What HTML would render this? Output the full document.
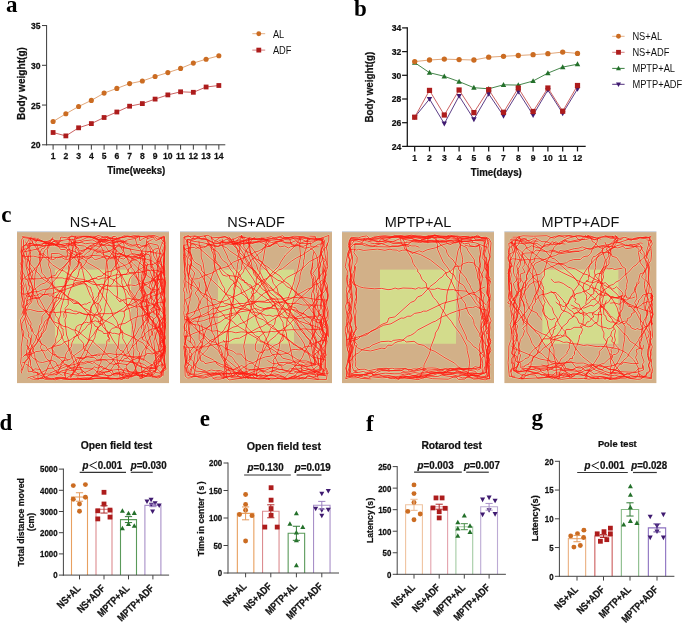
<!DOCTYPE html>
<html><head><meta charset="utf-8"><title>Figure</title>
<style>
html,body{margin:0;padding:0;background:#fff;}
body{width:685px;height:624px;overflow:hidden;font-family:"Liberation Sans",sans-serif;}
svg{display:block;will-change:transform;}
text[font-weight="bold"][font-family*="Sans"]{stroke:#111;stroke-width:0.22px;}
</style></head>
<body>
<svg width="685" height="624" viewBox="0 0 685 624">
<rect width="685" height="624" fill="#fff"/>
<text x="6.00" y="11.50" font-family='"Liberation Serif", serif' font-size="23" font-weight="bold" text-anchor="start" fill="#000" >a</text>
<text x="354.00" y="16.00" font-family='"Liberation Serif", serif' font-size="23" font-weight="bold" text-anchor="start" fill="#000" >b</text>
<text x="1.30" y="221.60" font-family='"Liberation Serif", serif' font-size="23" font-weight="bold" text-anchor="start" fill="#000" >c</text>
<text x="-0.40" y="430.30" font-family='"Liberation Serif", serif' font-size="23" font-weight="bold" text-anchor="start" fill="#000" >d</text>
<text x="199.80" y="425.50" font-family='"Liberation Serif", serif' font-size="23" font-weight="bold" text-anchor="start" fill="#000" >e</text>
<text x="366.00" y="430.50" font-family='"Liberation Serif", serif' font-size="23" font-weight="bold" text-anchor="start" fill="#000" >f</text>
<text x="531.60" y="425.40" font-family='"Liberation Serif", serif' font-size="23" font-weight="bold" text-anchor="start" fill="#000" >g</text>
<line x1="46.60" y1="25.05" x2="46.60" y2="145.30" stroke="#3a3a3a" stroke-width="1.0" />
<line x1="46.10" y1="144.80" x2="225.30" y2="144.80" stroke="#3a3a3a" stroke-width="1.0" />
<line x1="42.00" y1="144.80" x2="46.60" y2="144.80" stroke="#3a3a3a" stroke-width="1.0" />
<text transform="translate(40.60,148.26) scale(1,1.15)" font-family='"Liberation Sans", sans-serif' font-size="8.6" font-weight="bold" text-anchor="end" fill="#111" >20</text>
<line x1="42.00" y1="105.05" x2="46.60" y2="105.05" stroke="#3a3a3a" stroke-width="1.0" />
<text transform="translate(40.60,108.51) scale(1,1.15)" font-family='"Liberation Sans", sans-serif' font-size="8.6" font-weight="bold" text-anchor="end" fill="#111" >25</text>
<line x1="42.00" y1="65.30" x2="46.60" y2="65.30" stroke="#3a3a3a" stroke-width="1.0" />
<text transform="translate(40.60,68.76) scale(1,1.15)" font-family='"Liberation Sans", sans-serif' font-size="8.6" font-weight="bold" text-anchor="end" fill="#111" >30</text>
<line x1="42.00" y1="25.55" x2="46.60" y2="25.55" stroke="#3a3a3a" stroke-width="1.0" />
<text transform="translate(40.60,29.01) scale(1,1.15)" font-family='"Liberation Sans", sans-serif' font-size="8.6" font-weight="bold" text-anchor="end" fill="#111" >35</text>
<line x1="53.10" y1="144.80" x2="53.10" y2="149.60" stroke="#3a3a3a" stroke-width="1.0" />
<text transform="translate(53.10,158.96) scale(1,1.15)" font-family='"Liberation Sans", sans-serif' font-size="8.6" font-weight="bold" text-anchor="middle" fill="#111" >1</text>
<line x1="65.85" y1="144.80" x2="65.85" y2="149.60" stroke="#3a3a3a" stroke-width="1.0" />
<text transform="translate(65.85,158.96) scale(1,1.15)" font-family='"Liberation Sans", sans-serif' font-size="8.6" font-weight="bold" text-anchor="middle" fill="#111" >2</text>
<line x1="78.60" y1="144.80" x2="78.60" y2="149.60" stroke="#3a3a3a" stroke-width="1.0" />
<text transform="translate(78.60,158.96) scale(1,1.15)" font-family='"Liberation Sans", sans-serif' font-size="8.6" font-weight="bold" text-anchor="middle" fill="#111" >3</text>
<line x1="91.35" y1="144.80" x2="91.35" y2="149.60" stroke="#3a3a3a" stroke-width="1.0" />
<text transform="translate(91.35,158.96) scale(1,1.15)" font-family='"Liberation Sans", sans-serif' font-size="8.6" font-weight="bold" text-anchor="middle" fill="#111" >4</text>
<line x1="104.10" y1="144.80" x2="104.10" y2="149.60" stroke="#3a3a3a" stroke-width="1.0" />
<text transform="translate(104.10,158.96) scale(1,1.15)" font-family='"Liberation Sans", sans-serif' font-size="8.6" font-weight="bold" text-anchor="middle" fill="#111" >5</text>
<line x1="116.85" y1="144.80" x2="116.85" y2="149.60" stroke="#3a3a3a" stroke-width="1.0" />
<text transform="translate(116.85,158.96) scale(1,1.15)" font-family='"Liberation Sans", sans-serif' font-size="8.6" font-weight="bold" text-anchor="middle" fill="#111" >6</text>
<line x1="129.60" y1="144.80" x2="129.60" y2="149.60" stroke="#3a3a3a" stroke-width="1.0" />
<text transform="translate(129.60,158.96) scale(1,1.15)" font-family='"Liberation Sans", sans-serif' font-size="8.6" font-weight="bold" text-anchor="middle" fill="#111" >7</text>
<line x1="142.35" y1="144.80" x2="142.35" y2="149.60" stroke="#3a3a3a" stroke-width="1.0" />
<text transform="translate(142.35,158.96) scale(1,1.15)" font-family='"Liberation Sans", sans-serif' font-size="8.6" font-weight="bold" text-anchor="middle" fill="#111" >8</text>
<line x1="155.10" y1="144.80" x2="155.10" y2="149.60" stroke="#3a3a3a" stroke-width="1.0" />
<text transform="translate(155.10,158.96) scale(1,1.15)" font-family='"Liberation Sans", sans-serif' font-size="8.6" font-weight="bold" text-anchor="middle" fill="#111" >9</text>
<line x1="167.85" y1="144.80" x2="167.85" y2="149.60" stroke="#3a3a3a" stroke-width="1.0" />
<text transform="translate(167.85,158.96) scale(1,1.15)" font-family='"Liberation Sans", sans-serif' font-size="8.6" font-weight="bold" text-anchor="middle" fill="#111" >10</text>
<line x1="180.60" y1="144.80" x2="180.60" y2="149.60" stroke="#3a3a3a" stroke-width="1.0" />
<text transform="translate(180.60,158.96) scale(1,1.15)" font-family='"Liberation Sans", sans-serif' font-size="8.6" font-weight="bold" text-anchor="middle" fill="#111" >11</text>
<line x1="193.35" y1="144.80" x2="193.35" y2="149.60" stroke="#3a3a3a" stroke-width="1.0" />
<text transform="translate(193.35,158.96) scale(1,1.15)" font-family='"Liberation Sans", sans-serif' font-size="8.6" font-weight="bold" text-anchor="middle" fill="#111" >12</text>
<line x1="206.10" y1="144.80" x2="206.10" y2="149.60" stroke="#3a3a3a" stroke-width="1.0" />
<text transform="translate(206.10,158.96) scale(1,1.15)" font-family='"Liberation Sans", sans-serif' font-size="8.6" font-weight="bold" text-anchor="middle" fill="#111" >13</text>
<line x1="218.85" y1="144.80" x2="218.85" y2="149.60" stroke="#3a3a3a" stroke-width="1.0" />
<text transform="translate(218.85,158.96) scale(1,1.15)" font-family='"Liberation Sans", sans-serif' font-size="8.6" font-weight="bold" text-anchor="middle" fill="#111" >14</text>
<text transform="translate(136.30,173.80) scale(1,1.08)" font-family='"Liberation Sans", sans-serif' font-size="9.7" font-weight="bold" text-anchor="middle" fill="#111" >Time(weeks)</text>
<text transform="translate(25.4,83.5) rotate(-90) scale(1,1.12)" font-family='"Liberation Sans", sans-serif' font-size="10.1" font-weight="bold" text-anchor="middle" fill="#111">Body weight(g)</text>
<polyline points="53.10,121.50 65.85,113.80 78.60,106.50 91.35,100.40 104.10,93.10 116.85,88.40 129.60,83.60 142.35,81.00 155.10,76.50 167.85,72.60 180.60,68.40 193.35,63.10 206.10,59.20 218.85,55.80" fill="none" stroke="#dc9660" stroke-width="0.85"/>
<polyline points="53.10,132.50 65.85,135.90 78.60,127.80 91.35,123.60 104.10,117.50 116.85,112.00 129.60,106.20 142.35,103.60 155.10,99.10 167.85,94.90 180.60,91.80 193.35,92.30 206.10,87.00 218.85,85.50" fill="none" stroke="#c04444" stroke-width="0.85"/>
<circle cx="53.10" cy="121.50" r="2.55" fill="#cb6c22"/>
<circle cx="65.85" cy="113.80" r="2.55" fill="#cb6c22"/>
<circle cx="78.60" cy="106.50" r="2.55" fill="#cb6c22"/>
<circle cx="91.35" cy="100.40" r="2.55" fill="#cb6c22"/>
<circle cx="104.10" cy="93.10" r="2.55" fill="#cb6c22"/>
<circle cx="116.85" cy="88.40" r="2.55" fill="#cb6c22"/>
<circle cx="129.60" cy="83.60" r="2.55" fill="#cb6c22"/>
<circle cx="142.35" cy="81.00" r="2.55" fill="#cb6c22"/>
<circle cx="155.10" cy="76.50" r="2.55" fill="#cb6c22"/>
<circle cx="167.85" cy="72.60" r="2.55" fill="#cb6c22"/>
<circle cx="180.60" cy="68.40" r="2.55" fill="#cb6c22"/>
<circle cx="193.35" cy="63.10" r="2.55" fill="#cb6c22"/>
<circle cx="206.10" cy="59.20" r="2.55" fill="#cb6c22"/>
<circle cx="218.85" cy="55.80" r="2.55" fill="#cb6c22"/>
<rect x="50.70" y="130.10" width="4.80" height="4.80" fill="#ad1c1c"/>
<rect x="63.45" y="133.50" width="4.80" height="4.80" fill="#ad1c1c"/>
<rect x="76.20" y="125.40" width="4.80" height="4.80" fill="#ad1c1c"/>
<rect x="88.95" y="121.20" width="4.80" height="4.80" fill="#ad1c1c"/>
<rect x="101.70" y="115.10" width="4.80" height="4.80" fill="#ad1c1c"/>
<rect x="114.45" y="109.60" width="4.80" height="4.80" fill="#ad1c1c"/>
<rect x="127.20" y="103.80" width="4.80" height="4.80" fill="#ad1c1c"/>
<rect x="139.95" y="101.20" width="4.80" height="4.80" fill="#ad1c1c"/>
<rect x="152.70" y="96.70" width="4.80" height="4.80" fill="#ad1c1c"/>
<rect x="165.45" y="92.50" width="4.80" height="4.80" fill="#ad1c1c"/>
<rect x="178.20" y="89.40" width="4.80" height="4.80" fill="#ad1c1c"/>
<rect x="190.95" y="89.90" width="4.80" height="4.80" fill="#ad1c1c"/>
<rect x="203.70" y="84.60" width="4.80" height="4.80" fill="#ad1c1c"/>
<rect x="216.45" y="83.10" width="4.80" height="4.80" fill="#ad1c1c"/>
<line x1="252.30" y1="33.70" x2="265.20" y2="33.70" stroke="#e2a878" stroke-width="0.9" />
<circle cx="258.80" cy="33.70" r="2.45" fill="#cb6c22"/>
<text transform="translate(272.90,38.00) scale(1,1.2)" font-family='"Liberation Sans", sans-serif' font-size="9.3" font-weight="normal" text-anchor="start" fill="#111" >AL</text>
<line x1="252.30" y1="50.10" x2="265.20" y2="50.10" stroke="#d07070" stroke-width="0.9" />
<rect x="256.40" y="47.70" width="4.80" height="4.80" fill="#ad1c1c"/>
<text transform="translate(272.90,53.80) scale(1,1.2)" font-family='"Liberation Sans", sans-serif' font-size="9.3" font-weight="normal" text-anchor="start" fill="#111" >ADF</text>
<line x1="407.30" y1="27.30" x2="407.30" y2="147.00" stroke="#151515" stroke-width="1.25" />
<line x1="406.70" y1="146.40" x2="585.70" y2="146.40" stroke="#151515" stroke-width="1.25" />
<line x1="402.10" y1="146.40" x2="407.30" y2="146.40" stroke="#151515" stroke-width="1.25" />
<text transform="translate(401.40,149.77) scale(1,1.12)" font-family='"Liberation Sans", sans-serif' font-size="8.6" font-weight="bold" text-anchor="end" fill="#111" >24</text>
<line x1="402.10" y1="122.70" x2="407.30" y2="122.70" stroke="#151515" stroke-width="1.25" />
<text transform="translate(401.40,126.07) scale(1,1.12)" font-family='"Liberation Sans", sans-serif' font-size="8.6" font-weight="bold" text-anchor="end" fill="#111" >26</text>
<line x1="402.10" y1="99.00" x2="407.30" y2="99.00" stroke="#151515" stroke-width="1.25" />
<text transform="translate(401.40,102.37) scale(1,1.12)" font-family='"Liberation Sans", sans-serif' font-size="8.6" font-weight="bold" text-anchor="end" fill="#111" >28</text>
<line x1="402.10" y1="75.30" x2="407.30" y2="75.30" stroke="#151515" stroke-width="1.25" />
<text transform="translate(401.40,78.67) scale(1,1.12)" font-family='"Liberation Sans", sans-serif' font-size="8.6" font-weight="bold" text-anchor="end" fill="#111" >30</text>
<line x1="402.10" y1="51.60" x2="407.30" y2="51.60" stroke="#151515" stroke-width="1.25" />
<text transform="translate(401.40,54.97) scale(1,1.12)" font-family='"Liberation Sans", sans-serif' font-size="8.6" font-weight="bold" text-anchor="end" fill="#111" >32</text>
<line x1="402.10" y1="27.90" x2="407.30" y2="27.90" stroke="#151515" stroke-width="1.25" />
<text transform="translate(401.40,31.27) scale(1,1.12)" font-family='"Liberation Sans", sans-serif' font-size="8.6" font-weight="bold" text-anchor="end" fill="#111" >34</text>
<line x1="414.70" y1="146.40" x2="414.70" y2="151.40" stroke="#151515" stroke-width="1.25" />
<text transform="translate(414.70,160.97) scale(1,1.12)" font-family='"Liberation Sans", sans-serif' font-size="8.6" font-weight="bold" text-anchor="middle" fill="#111" >1</text>
<line x1="429.50" y1="146.40" x2="429.50" y2="151.40" stroke="#151515" stroke-width="1.25" />
<text transform="translate(429.50,160.97) scale(1,1.12)" font-family='"Liberation Sans", sans-serif' font-size="8.6" font-weight="bold" text-anchor="middle" fill="#111" >2</text>
<line x1="444.30" y1="146.40" x2="444.30" y2="151.40" stroke="#151515" stroke-width="1.25" />
<text transform="translate(444.30,160.97) scale(1,1.12)" font-family='"Liberation Sans", sans-serif' font-size="8.6" font-weight="bold" text-anchor="middle" fill="#111" >3</text>
<line x1="459.10" y1="146.40" x2="459.10" y2="151.40" stroke="#151515" stroke-width="1.25" />
<text transform="translate(459.10,160.97) scale(1,1.12)" font-family='"Liberation Sans", sans-serif' font-size="8.6" font-weight="bold" text-anchor="middle" fill="#111" >4</text>
<line x1="473.90" y1="146.40" x2="473.90" y2="151.40" stroke="#151515" stroke-width="1.25" />
<text transform="translate(473.90,160.97) scale(1,1.12)" font-family='"Liberation Sans", sans-serif' font-size="8.6" font-weight="bold" text-anchor="middle" fill="#111" >5</text>
<line x1="488.70" y1="146.40" x2="488.70" y2="151.40" stroke="#151515" stroke-width="1.25" />
<text transform="translate(488.70,160.97) scale(1,1.12)" font-family='"Liberation Sans", sans-serif' font-size="8.6" font-weight="bold" text-anchor="middle" fill="#111" >6</text>
<line x1="503.50" y1="146.40" x2="503.50" y2="151.40" stroke="#151515" stroke-width="1.25" />
<text transform="translate(503.50,160.97) scale(1,1.12)" font-family='"Liberation Sans", sans-serif' font-size="8.6" font-weight="bold" text-anchor="middle" fill="#111" >7</text>
<line x1="518.30" y1="146.40" x2="518.30" y2="151.40" stroke="#151515" stroke-width="1.25" />
<text transform="translate(518.30,160.97) scale(1,1.12)" font-family='"Liberation Sans", sans-serif' font-size="8.6" font-weight="bold" text-anchor="middle" fill="#111" >8</text>
<line x1="533.10" y1="146.40" x2="533.10" y2="151.40" stroke="#151515" stroke-width="1.25" />
<text transform="translate(533.10,160.97) scale(1,1.12)" font-family='"Liberation Sans", sans-serif' font-size="8.6" font-weight="bold" text-anchor="middle" fill="#111" >9</text>
<line x1="547.90" y1="146.40" x2="547.90" y2="151.40" stroke="#151515" stroke-width="1.25" />
<text transform="translate(547.90,160.97) scale(1,1.12)" font-family='"Liberation Sans", sans-serif' font-size="8.6" font-weight="bold" text-anchor="middle" fill="#111" >10</text>
<line x1="562.70" y1="146.40" x2="562.70" y2="151.40" stroke="#151515" stroke-width="1.25" />
<text transform="translate(562.70,160.97) scale(1,1.12)" font-family='"Liberation Sans", sans-serif' font-size="8.6" font-weight="bold" text-anchor="middle" fill="#111" >11</text>
<line x1="577.50" y1="146.40" x2="577.50" y2="151.40" stroke="#151515" stroke-width="1.25" />
<text transform="translate(577.50,160.97) scale(1,1.12)" font-family='"Liberation Sans", sans-serif' font-size="8.6" font-weight="bold" text-anchor="middle" fill="#111" >12</text>
<text transform="translate(496.30,176.00) scale(1,1.08)" font-family='"Liberation Sans", sans-serif' font-size="9.7" font-weight="bold" text-anchor="middle" fill="#111" >Time(days)</text>
<text transform="translate(372.8,87.2) rotate(-90) scale(1,1.1)" font-family='"Liberation Sans", sans-serif' font-size="9.8" font-weight="bold" text-anchor="middle" fill="#111">Body weight(g)</text>
<polyline points="414.70,62.60 429.50,72.70 444.30,76.30 459.10,81.60 473.90,87.70 488.70,88.80 503.50,84.80 518.30,85.10 533.10,81.00 547.90,73.10 562.70,67.10 577.50,64.20" fill="none" stroke="#23702a" stroke-width="0.85"/>
<path d="M414.70,59.74 L417.43,64.68 L411.97,64.68Z" fill="#23702a"/>
<path d="M429.50,69.84 L432.23,74.78 L426.77,74.78Z" fill="#23702a"/>
<path d="M444.30,73.44 L447.03,78.38 L441.57,78.38Z" fill="#23702a"/>
<path d="M459.10,78.74 L461.83,83.68 L456.37,83.68Z" fill="#23702a"/>
<path d="M473.90,84.84 L476.63,89.78 L471.17,89.78Z" fill="#23702a"/>
<path d="M488.70,85.94 L491.43,90.88 L485.97,90.88Z" fill="#23702a"/>
<path d="M503.50,81.94 L506.23,86.88 L500.77,86.88Z" fill="#23702a"/>
<path d="M518.30,82.24 L521.03,87.18 L515.57,87.18Z" fill="#23702a"/>
<path d="M533.10,78.14 L535.83,83.08 L530.37,83.08Z" fill="#23702a"/>
<path d="M547.90,70.24 L550.63,75.18 L545.17,75.18Z" fill="#23702a"/>
<path d="M562.70,64.24 L565.43,69.18 L559.97,69.18Z" fill="#23702a"/>
<path d="M577.50,61.34 L580.23,66.28 L574.77,66.28Z" fill="#23702a"/>
<polyline points="414.70,117.20 429.50,99.00 444.30,123.70 459.10,96.00 473.90,119.30 488.70,93.90 503.50,115.80 518.30,91.70 533.10,115.10 547.90,90.00 562.70,113.30 577.50,89.00" fill="none" stroke="#3f1a70" stroke-width="0.85"/>
<path d="M414.70,120.06 L417.43,115.12 L411.97,115.12Z" fill="#3f1a70"/>
<path d="M429.50,101.86 L432.23,96.92 L426.77,96.92Z" fill="#3f1a70"/>
<path d="M444.30,126.56 L447.03,121.62 L441.57,121.62Z" fill="#3f1a70"/>
<path d="M459.10,98.86 L461.83,93.92 L456.37,93.92Z" fill="#3f1a70"/>
<path d="M473.90,122.16 L476.63,117.22 L471.17,117.22Z" fill="#3f1a70"/>
<path d="M488.70,96.76 L491.43,91.82 L485.97,91.82Z" fill="#3f1a70"/>
<path d="M503.50,118.66 L506.23,113.72 L500.77,113.72Z" fill="#3f1a70"/>
<path d="M518.30,94.56 L521.03,89.62 L515.57,89.62Z" fill="#3f1a70"/>
<path d="M533.10,117.96 L535.83,113.02 L530.37,113.02Z" fill="#3f1a70"/>
<path d="M547.90,92.86 L550.63,87.92 L545.17,87.92Z" fill="#3f1a70"/>
<path d="M562.70,116.16 L565.43,111.22 L559.97,111.22Z" fill="#3f1a70"/>
<path d="M577.50,91.86 L580.23,86.92 L574.77,86.92Z" fill="#3f1a70"/>
<polyline points="414.70,117.20 429.50,90.40 444.30,115.00 459.10,90.00 473.90,112.60 488.70,89.70 503.50,112.30 518.30,88.00 533.10,111.50 547.90,88.00 562.70,111.20 577.50,85.50" fill="none" stroke="#c04444" stroke-width="0.85"/>
<rect x="412.10" y="114.60" width="5.20" height="5.20" fill="#ad1c1c"/>
<rect x="426.90" y="87.80" width="5.20" height="5.20" fill="#ad1c1c"/>
<rect x="441.70" y="112.40" width="5.20" height="5.20" fill="#ad1c1c"/>
<rect x="456.50" y="87.40" width="5.20" height="5.20" fill="#ad1c1c"/>
<rect x="471.30" y="110.00" width="5.20" height="5.20" fill="#ad1c1c"/>
<rect x="486.10" y="87.10" width="5.20" height="5.20" fill="#ad1c1c"/>
<rect x="500.90" y="109.70" width="5.20" height="5.20" fill="#ad1c1c"/>
<rect x="515.70" y="85.40" width="5.20" height="5.20" fill="#ad1c1c"/>
<rect x="530.50" y="108.90" width="5.20" height="5.20" fill="#ad1c1c"/>
<rect x="545.30" y="85.40" width="5.20" height="5.20" fill="#ad1c1c"/>
<rect x="560.10" y="108.60" width="5.20" height="5.20" fill="#ad1c1c"/>
<rect x="574.90" y="82.90" width="5.20" height="5.20" fill="#ad1c1c"/>
<polyline points="414.70,61.60 429.50,60.00 444.30,59.10 459.10,59.60 473.90,60.00 488.70,57.20 503.50,56.30 518.30,55.50 533.10,54.70 547.90,53.70 562.70,52.10 577.50,53.40" fill="none" stroke="#dc9660" stroke-width="0.85"/>
<circle cx="414.70" cy="61.60" r="2.65" fill="#cb6c22"/>
<circle cx="429.50" cy="60.00" r="2.65" fill="#cb6c22"/>
<circle cx="444.30" cy="59.10" r="2.65" fill="#cb6c22"/>
<circle cx="459.10" cy="59.60" r="2.65" fill="#cb6c22"/>
<circle cx="473.90" cy="60.00" r="2.65" fill="#cb6c22"/>
<circle cx="488.70" cy="57.20" r="2.65" fill="#cb6c22"/>
<circle cx="503.50" cy="56.30" r="2.65" fill="#cb6c22"/>
<circle cx="518.30" cy="55.50" r="2.65" fill="#cb6c22"/>
<circle cx="533.10" cy="54.70" r="2.65" fill="#cb6c22"/>
<circle cx="547.90" cy="53.70" r="2.65" fill="#cb6c22"/>
<circle cx="562.70" cy="52.10" r="2.65" fill="#cb6c22"/>
<circle cx="577.50" cy="53.40" r="2.65" fill="#cb6c22"/>
<line x1="612.20" y1="36.30" x2="624.60" y2="36.30" stroke="#e2a878" stroke-width="0.9" />
<circle cx="618.50" cy="36.30" r="2.45" fill="#cb6c22"/>
<text transform="translate(632.40,39.90) scale(1,1.2)" font-family='"Liberation Sans", sans-serif' font-size="9.3" font-weight="normal" text-anchor="start" fill="#111" >NS+AL</text>
<line x1="612.20" y1="52.30" x2="624.60" y2="52.30" stroke="#d07070" stroke-width="0.9" />
<rect x="616.10" y="49.90" width="4.80" height="4.80" fill="#ad1c1c"/>
<text transform="translate(632.40,55.90) scale(1,1.2)" font-family='"Liberation Sans", sans-serif' font-size="9.3" font-weight="normal" text-anchor="start" fill="#111" >NS+ADF</text>
<line x1="612.20" y1="68.40" x2="624.60" y2="68.40" stroke="#23702a" stroke-width="0.9" />
<path d="M618.50,65.76 L621.02,70.32 L615.98,70.32Z" fill="#23702a"/>
<text transform="translate(632.40,72.00) scale(1,1.2)" font-family='"Liberation Sans", sans-serif' font-size="9.3" font-weight="normal" text-anchor="start" fill="#111" >MPTP+AL</text>
<line x1="612.20" y1="84.30" x2="624.60" y2="84.30" stroke="#3f1a70" stroke-width="0.9" />
<path d="M618.50,86.94 L621.02,82.38 L615.98,82.38Z" fill="#3f1a70"/>
<text transform="translate(632.40,87.90) scale(1,1.2)" font-family='"Liberation Sans", sans-serif' font-size="9.3" font-weight="normal" text-anchor="start" fill="#111" >MPTP+ADF</text>
<rect x="17.00" y="231.80" width="152.00" height="151.30" fill="#d2b088"/>
<rect x="17.00" y="231.20" width="152.00" height="1" fill="#c8d0dc"/>
<rect x="55.00" y="269.62" width="76.00" height="74.14" fill="#d3dc8c"/>
<defs><path id="trk0" d="M1217 3621l30-38 21 3 20-28 65 22 46 6 37 17 7-32 17-28-5-28 13-44 26-23-36-61-21-83 3-38-10-34-11-81 12-33-19-69 40-117-34-69 8-39-12-26 0-33 22-81-4-36 21-64-27-43-94 34M388 2545l45-9 34 32 51 31 23-6 27-21 47 1 30 18 34 4 25-19 42 1 28-38 39 9 39 33 41-1 26-12 32 30 82-27 33 18 72-1 39-25 26 18 35 11 24-24 46-28 39-2 53 18 50 3-16 44 44 37-25 65 9 22-7 41-31 49 29 22-31 54 54 59-7 34 15 44-19 37 11 38-3 38-22 30 18 36M1223 3773l98-5 39-24 73 27 41-13 48 12 46 1 46-12 3-41 45-24-19-65-1-54 12-48-17-56-12-114-23-28-11-30 40-27-22-59-24-21-21-39 2-46-53-89 10-41-20-30 29-54-18-34 20-62 19-18 14-42-35-23-24-26 18-46-20-22 6-46-5-44-6-41-17-31-49 4-47 17-34-21-55 3-36-18-27-36-107 24-41-6-53 26-54 13-31-9-49 10-42 26-36 46-41-7-102-40-10 34 6 27-13 33-37-30-42-21-71 3 1 55M344 2408l32-8 61 15 57 7 26 21 38 1 39-28 11-46 66 9 41-20 67 26 41-16 44-2 50 8 46 21 64 0 22-9 25-22 45 41 158-47 57 12 58-11 7 49 29-21 59-28 42 9 28 37 42-16 42-32 10 71-14 54 5 37-37 75 9 39-5 146 9 157 23 42-14 44 22 52-21 56 24 56-31 134 4 28 27 36-51 34 13 35 23 27-29 26 1 103-40 11-13 46M1531 3360l-22-63 16-17-5-53 14-33 41-35-72-66 43-34-12-35 29-59 12-44-9-48 2-37-33-25 12-47-14-50 6-30-26-31-12-41 2-38-13-30-40 5-21-20-39 15-53 9-24-29-11-36-85-12-33-13-53 24-55 33-41 7-34-14-41 21M1577 2697l18 38-18 57 33 35-1 33 24 48-18 61-8 83 35 50-15 104-2 63-16 44 31 22 6 45-17 38-38 22-2 46 34 66-50 16-32 65 19 50-55-3-18 29-79 16-51-1-45 15-40-3-69-18-23 30-46 4-54-54-45-21-15-18-39 23-42-15-22 28-72 31-33-37-106 17-32-11-59 13-36 30-33 10-51 3-58 29-58 5 2-62-49 6-10-44-16-31-1-53-39-52 1-46 30-54 24-105M1548 3321l6 51 33 105 1 44-37 26 6 43-23 33 29 60-90-14-28-22-31-13-39-6-27 2-47-6-24 23-92-13-42 10-42-8-42-37-43-6-45 6-31-26-46 4-13-9-53 12-34-6-32 2M267 3454l36 43-9 39 5 37-15 62-5 47 4 36 39-3 24-27 57 7 17 49 51-5 51 4 50-21 45-2 88 23 106 11 151 3 47-15 57 13 41 3 50-30 44 3 45 21 58-4 42-16 90 18 25 15 47-11 37-17 11-25-4-62 31-19-1-45M1513 2607l-13 60 24 9 23 46-55 140 20 44-13 36 11 40 42 35 40 45 3 59-15 35 17 59-10 38 29 61-21 43 28 33 36 83-20 39-17 57 26 64 2 41-48 58-41-7-36-23-26 11-33 44-87-5-52-31-83-15-45-13-86 9-42 20-46 0-43-12-47 47-67-10-30-34-56 26M276 2438l47-5 10-45 55 4 17 14 44 16 88-31 8 24 42 27 77 17 83-38 33 10 60-23 87-9 41 22 67-16 84 28 52-21 95 20 58 19 68-6 23 15 45-6 37-21 82 18 19 69-10 68 4 40-11 18-10 44-1 44 8 38 29 39-5 51-36 54-6 59 8 29-24 62-8 43 6 40M210 2674l19-95-17-58 2-119 14-27 100 15 26 20 53-10 36 22 52 20 34-8 28 16 28 9 44 4 50-23 46 16 34-45 51-7 89-42 55 1 65 27 44 8M965 2400l89-5 66 20 39-24 40-18 30 4 48-12 57 8 207-19 53 20 50-5 4 114-9 131-7 35 10 46-17 25-11 39 17 39-9 48 14 60-28 14-4 49 18 22 9 60-5 56 29 55-49 38-13 51M221 2366l64 8 35 15 68 19 85 20 47 2 51 18 40-42 67-11 53 3 57-25 45-9 53-2 52 18 39-26 59 14 45 0 54 21 55-6 52-26 53 11 46-12 105 11 33 18 63-18 32 24 67-14-10 43-15 22-20 65 17 51-10 40 25 101-56 75-14 29-21 107 22 48 19 85 7 44-8 37 46 58-24 35 2 61 22 51 14 54-9 62 15 43-12 41 9 54 2 61-33 17 23 40 0 43-21 24-31 14-98-42-30-4-31 28-56-11-52 8-45-7-89 34-125-4M1514 3648l-7 51-24 24-43-16-33 20-55-11-49 14-21-29-35-17-13 29-9 48-44-33-55 16-46 21-32-25-15-21-41 18-58-48-88-2-24-13-105 8-58-42-36 18-32 25-36-65-43-16-87 23-46-7-13-21-30-11-21-24-11-42-20-29-14-47 5-46-42-37 6-42-21-36 2-47 39-77-6-40 34-64 29-30 19-120-29-96 24-74-30-59-7-60-23-56-14-56 26-25-26-62M1528 3762l41 0 40-13 1-38 47-32-30-31-19-38 29-93 4-53-5-25-28-43 3-37-18-158-22-48-7-53 12-41-4-80 8-64M1573 3158l-14-82 16-60-11-39 10-109 0-92-7-41 16-45-16-48 10-38 20-44M626 2408l-54 0-42 10-35 24-52-13-37 30-115-28-4 42 7 52-28 134 39 73 4 28 27 41M321 3320l-16-46 7-42-42-78-15-57 0-36 46-37 4-47 21-46 3-50-39-104-30-109-1-61-23-45 4-46-4-61 33-5 63 3 39-6 50 10 42-5 61 5 21-5 58 19 67 3 24-25 44 3 45 27 11 32 85-24 45-5 34 31 43 9 39 28 33 8 31 25 95-50 69 26 22-6 32 34 43-13 21 8 51-20 15 26-13 47 28 21-2 66-21 61-22 43 8 39-12 33 30 39-15 35 1 26-13 36-3 44 40 18 25 26-47 30-10 37 16 31-25 33-2 36M271 3010l4-8 5 11-26 47-2 32-15 16-2 41-31 50 23 171-15 99 1 95-7 69 16 42-11 34 6 25M500 3730l170-69 89-20 46-21 30 7 33-16 56 27 17-15 28 22 30 14 32 28 12-4 80 24 10 29 52 1 27 11 31 1M1582 2903l-27-7-23 2-33-14-87-63-31-35-22-11-25-43-46-8-22-41-29-40-35-18-28-31-31-25-39-47-21-15-27-44-30-11-17-17-14-30-40-25-20-3M552 3776l57-5 53 11 58-36 12-25 7-36 4-28-6-40-54-144 4-64-21-59-17-151 15-34-14-81 33-39-3-88 33-84 20-20 7-38 39-55 16-70 34-24 28-36 15-38 37-21 29-57 62-45 9-27 69-58M1600 3579l46-75 1-177-10-39 22-61-11-49-6-132 6-108-4-63 12-41-17-105 0-107 11-138-4-63-26-18-10-32M1168 2406l12 28 27 27 11 32 23 25 5 29 23 33 46 94 24 30 20 37 11 42 18 30 6 43 16 22 57 164 12 49 0 48 11 45-11 40-25 24-2 39-25 32-10 34 12 47 13 1 30 23 60 72 16 5 26 32 53 23M1596 2754l-33 75-38 68-15 42 0 38-25 35 7 32-17 61 2 71-8 59 19 53 1 63 9 36 30 103 19 32 17 74-2 37 6 21-8 19 3 32-35 20-13 27-33-6-41 24-46 14M1012 2377l47-5 32 11 106 11 18 14 17 25 4-2 7 27-8 15-2 44-29 29-19 44-6 30-67 93-2 35-53 60-72 143-28 35-35 68-25 64-17 21-24 63-34 38-40 102-31 24-32 62-4 37-49 60-11 27-5 37-40 65-47 101M1617 2422l31 31-6 121 4 50-15 45 17 111-12 110 12 99-8 64-1 102-13 65-36 39-52 153 9 95 29 43 42 17M1368 3753l-14-60 2-31-30-40 14-127-17-39 12-30-3-52 5-44 16-59 9-84 16-25-6-51 6-12-13-33-6-43-32-42-35-31-22-45-43-28-90-79-33-14-22-22-64-38-23-28-120-69-26-26-40-26-70-31-30-20-81-70-35-16-32-24M1569 2873l10-31 23-34 4-53 11-19-12-57-81-69-56-18-59-6-59-22-82 7-25-12-120 15-45-11-36 8-35-12-89-5-59 15-31-4-92 10-39-15-88 4-32 15-49-9-121 8-74-17-81 4-30-10M263 3061l11-12-8-24-1-22 25-52-20-26 20-19 6-34-15-31 10-21-1-58 8-40-6-67 16-67-6-46 6-29-12-32 6-46-3-23 13-45M648 3759l-8-22 22-18 8-17 29-21 27-2 77-38 40-2 35-15 55-13 91-11 108-4 204 26 85 49 44 17 39 27 24 58M1591 3525l16-48-11-51 1-49-7-40-33-45-19-51-89-131-42-33-52-77-50-63-14-41-1-38-7-20 14-48 18-28 72-65 29-13 38-27 40-14 38 2 36-24 30-9 14-21M228 2498l35-12 60-34 40 2 77-21 95 9 46 17 26 37 45-2 31 35 43 28 49 58 36 12 9 38 34 28 41 47 205 338 16 31 10 43 41 57 24 69 24 35 15 46-4 25 35 63 14 36-2 21 61 117 37 104 35 60 22-5-15-39M252 2794l43-6 97 0 50-13 26 11 37-13 43 7 75-1 22 8 73 5 32 12 87 13 34-5 51 29 64 11 50 35 48 10 57 56 97 59 12 21 36 16 36 4 35 18 31-4 48 2 126-32 31-14 49 0M1631 3636l-94 51-53-3-92-20-51-34-89-72-19-45-31-9-73-104-36-70-33-22-11-42-34-80-23-31-25-73-45-101-21-29-36-92-21-32-1-42-17-82-49-124-27-84 11-22-19-74 13-40M228 3571l34-33 24-10 46-65 29-24 60-98 35-41 30-108 14-23 24-64 8-40-3-96 7-56-31-217-20-43 7-39-12-47-6-73 14-20 5-28 54-42 40 11M1616 3538l7-47-19-60-3-65-43-107-28-24 6-32-6-27-39-19 4-38-13-16-15-37-2-67-11-77-31-71 27-81-11-76 9-27-2-98 9-27 5-39 5-98 17-37M1604 2970l-28 38-19 40-34 42-15 37-81 119-34 36-42 78-29 18-92 143-49 43-43 18-14 38-33 21-18 26-38 29-21 9-19 22-121 67-164-3-138-12-27 11-29-3-62-16-67-26-67-54-36-36-26-13M242 3554l77-14 40-24 42-5 25-11 30 11 30-23 61-25 67-16 35-29 56-18 25-25 67-29 23-34 34-25 20-34 30-18 35-66 7-27 28-29 7-25-2-48 23-28 18-33 32-194 12-161 27-50 40-54 16-36 41-39 83-45 91-17 19-13M222 3707l31-96 25-27 4-38 23-41 5-31 42-65 20-67 26-26 33-57 18-47 43-34 13-53 28-26 78-106 10-40 31-39 1-56 39-155-8-44 14-24 7-120-18-39 7-88M835 3743l-24-42-6-27-36-49-24-59-28-28-6-32-77-100-27-81-17-33-33-36-91-135-80-147-18-42-6-28-19-34 7-122 24-84 48-80 22-77 29-25 14-46 23-28 16-33M1130 2376l-69 20-38 5-29 18-47 48-34 9-14 36-26 13-39 36-12 24-33 11-11 55-23 23-92 135-3 44-34 32-10 36-20 29-11 43-29 30-60 115-4 24-32 80-14 17-12 50-20 21-2 38-28 23-9 33-36 49-22 57-44 68-24 26-27 4M381 2382l-24 43 48 116 39 27 83 81 77 50 40 13 33 27 18 4 24 23 44 19 69 8 40 15 72 14 29 26 47-6 76 22 37-4 116 6 21-14 43-2 41 7 37-21 30 4 83-26 103-80M1639 3351l-97-84-52-33-6-38-32-37-11-52-26-64-7-42 14-44-8-71 14-70 2-49 17-64-6-43-20-78 2-49-12-31-41-54-17-60M254 2936l28 1 62-19 38-2 53-22 51-3 37-7 26-11 96-12 84-17 30-17 40 1 22-10 52-4 73-34 41 15 32-13 47-4 101-32 31 3 82-8 58-17 67 0 63-19 36-2 66 0 68 24M801 3783l47-5 53 3 35-19 83-22 40-26 36 2 57-80 32-4 50-76 44-24 23-28 19-39 29-19 51-66 29-5 24-40 34-30 44-18 38-1 28-20M972 3725l22-73 17-31-2-37 28-49 30-87 2-42 26-22-12-24 6-17 16-41 19-21 18-1 33-19 14-17 60-9 82-50 55-23 28-2 113-37 34-26 46-1M218 2498l40 87 30 21 21 42 27 24 18 36 27 21 45 60 81 51 25 23 21 31 61 27 86 64 45 17 44 25 120 141-2 47 10 47-30 136-13 39-37 86-54 97-7 44-74 107M1584 2484l-41 7-16 24-35 1-89 58-89 37-45 34-97 35-49 29-61 12-43 40-41 5-26 19-39 7-35 23-33 0-24 19-230 83-28 4-41 20-44-3-44 10-44 31-45-4-41 20-33 7M1627 3733l6-38 18-26-8-122 7-39-12-92 19-39-13-32 10-88-8-31 6-36-12-103 10-66-11-121-1-104 10-42 0-47-17-31-52-64-22-88 23-17M221 2715l18 24 13 42 22 18 16 48 34 45-3 31 47 67 15 53 32 40 29 18 42 49 21 17 17 37 26 19 40 13 46 28 38 6 55 29 29 2 45 30 82 68 38 6 29 35 50 41 37 38 20 12 32 39 26 7 48 68 54 47 56 79M704 3781l38-53 74-130 28-13 26-49 8-35 71-125 3-25 25-71 23-25 10-66 22-33 14-40 3-42 20-74-5-53 9-31 2-55 9-43-5-120-10-70-9-39-24-36-5-51-30-52-21-53-44-25M301 2386l106 161 1 66-11 10-11 31-36 29-7 15-76 60-16 19-24 15-11 15-5 39 11 12-3 43-8 25 13 66-7 39 6 51M240 2518l130-27 50-25 119-26 62 7 52-11 161-12 40 14 55-8 211 30 59-10 112 39 125 22 82 4 23 11 74 7 34 10M1633 3327l-64-74-63-62-62-155-12-42-6-53-27-45 0-43-21-60 8-38-5-47 10-65 18-38-12-37 27-67 20-22 31-61 52-25M1430 3719l37 18 39-4 60-41 67-180 7-67-6-37 11-33-3-71 12-31-4-42-11-30 10-112-14-39 18-41-13-74-20-52-1-66-19-113-30-88-34-59-1-40-63-103M679 2384l28 31 35 23 35 15 69 8 33 26 58 15 81-1 42 13 51-6 37 26 44 4 55 21 46 10 38 25 39 11 80 71 50 33 20 60 26 25 8 44 33 57 10 33 22 23M1643 2909l-35 24-84 29-53 34-41 6-42 41-40 21-78 28-30 21-43-3-29 17-72 10-97 0-51 15-57-6-29 2-66-21-35 13-125-22-82 7-33-5-34 2-29-17-35 10-42 1-79-21-41 7M676 2384l45-21 59-2 91 3 103 22 39 27 54 18 51 32 87 75 49 26 79 72 69 71 52 23 20 30 61 35 18 19 19 9 5-30 23 4M789 3745l-142-102-44-54-87-54-45-46-13-26-39-23-43-42-13-31-28-32-15-52-32-40-42-100-7-106-17-59-6-56 1-148 12-81-3-32 6-57M528 2381l-70 64-13 36-28 8-26 63 6 62 23 118 27 27 17 30 66 56 22 35 36 23 36 14 63 66 18 7 40 29 28 7 60 52 56 27 57 41 28 9 57 41 100 48 32 31 25 5 30 21 17 31 95 41 65 41 34 15 31 44 37 26 30 34 21-3 47 70 25 26 3 31 19 35M1643 3472l-31-110-38-64-25-61-62-73-71-99-15-38-37-38-73-99-88-159-31-36-6-40-32-104-5-42 8-51-5-37M303 3785l31 8 39-2 29-8 15 5 45-76 25-61 19-29 9-51 12-25-2-51 6-39 26-35 0-35 19-45 0-43 16-51-2-54 16-47 1-54 36-125-1-73 10-27-1-43 17-44 9-49 26-79-4-70 61-191 21-21M1314 3772l-30-43-24-61 9-19 23-25 39-28 20-3 36-26 51-9 40-25 48 8 38-22 45-9 39-26-2-38-11-28 0-26 11-36-5-39 6-57-4-114-26-26-24-37M1276 2420l-82-14-49 7-43-12-103 18-38 11-31 18-32 9-56 49-35 15-18 18-27 9-27 29-62 49-108 155-40 41-26 49-41 33-13 32-61 53-21-6-28 5-25-8-42-75-12-71M1428 3763l-20-124-14-23-6-42 9-48-25-27-9-80-25-65-12-59-1-38-9-38-12-25-5-73-13-42-21-34-7-95-41-123 2-31-30-97 1-41-30-48-8-56 0-49-21-33-8-77 8-34 0 4 22 0 16 11M1608 3166l-48 85-10 33-22 26-8 30-38 65-14 43-17 34-21 26-41 102-17 27-13 43-53 88-25 6 7 11-18 3-19-10-2 7-11-6 6 2-19 5-3 9-32-10-11 6-48-5-28 7-114-27-56-6-55-13-32 10-89 3M217 3146l22-61-11-25 17-35-12-134 10-30-15-48-7-83-3-208 15-33 0-19 41-45 15-32 14-9 52-4M274 3781l40-16 41-7 109-60 15-13 55-5 38-27 27-2 27-42 75-16 38-37 78-55 68-83 16-34 37-42 16-31 35-45 45-33 43-43 89-65 71-44 35-30 43-9 135-80 152-74M656 3782l-6-63 15-27 19-29 97-78 56-1 34-20 62-7 47-17 78 2 34-8 57 10 57-1 110 26 60-2 47 18 132 88 82 80M1642 2584l-5 41 3 116 4 48 13 34-9 31-6 78 2 72-9 22 14 67 2 44-9 87 11 35-10 120 11 137-32 26-68 87-60 32-97 71-41 8-31 17-74 12-27 22-142-13-70 8-68-5-26 6-41-4-54 10-52-16M248 3184l26 123 16 24-8 38 27 17-1 53 22 46 1 19 16 42 3 32 18 52 40 83 27 33 19 38 63 7 28-9 23 4 37-6 25 12 49 4 73-13 45 8 67 3 47-1 59-12 123-5M1198 3768l0-30-17-51 9-23-14-40-16-111 23-51 9-100 12-37 0-57 42-110-5-41 87-130 26-25 21-48 53-61 48-11 56-41 38-1 33-8 35 7M724 2389l46 101 28 45-13 111-21 41-44 41-42 86-60 72-49 74-29 28-83 136-36 38-4 67-19 24-19 88 36 106-15 24 38 60 25 55 27 20 49 89 57 43 30 16M1622 2494l17 68-1 83 8 14-1 47-14 26 16 44-4 46 9 35-11 148 8 64-9 129 6 10-20 34-32 25-36 12M1239 3774l-108 14-108-6-76 3-82 12-71-12-33 9-34-3-28 5-61-19-86 22-27-8-73 3-37-20-30 18-54-19M1612 3088l-103-54-34-12-59-12-40-17-43 1-55-13-27 19-22-3-15 16-11-7-2 16-34-37 9-44-13-192 15-32-21-50 0-41 13-38-18-38 15-43-21-36-9-75M253 2994l14-38 15-23 26-10 20-20 34-20 22-23 30-18 41-14 57-65 42-9 19-36 88-72 23-29 45-97-15-108-22-34M1024 3185l-23-35-3-27 18-24-14-28 1-11-21-27-24 0-36-40 15-12-10-30 0-18-11-18-11-44-17-2-20-18-7-13-92 1-48 22M1228 3326l-20-4-16 21-47-11-20 2-26-12-19 9-44 5-10-20-46-18-2-27-29-9-5-18-22-15-23-62-1-27 15-32-7-25 10-25 61-52 6-28 7-8-7-30 4-15 39-47 55-32 12 16 23-16 20-24-5-15 30-24 28-7 13-20 14 2 23-16 22 2 20-29 6-29 22-11 11-21-22-22 28-50-9-16M581 2946l-18 10-3 52-16 15-9 51 11 10-11 25 17 25 3 23 29 32-4 20 28 38 4 34 20 8-3 15 6 51-23 15 1 17-59 55-5 12-23 7-12 26 24 26 5 34 16-3 17 24 79 12 22 20-1 5M638 3177l3-13-5-25 29-47 33 0 37 19 34 1 7 10 19-1 42 18 76 9 56 32 11 15 13 39 26 3 8 28 26 29 25 17-1 54 18 20-6 22 3 13M908 3020l-25 8-16 13-24-1-32 15-2-8-26-14-47 3-28-30-20-10-66-5-42-14-32-2-35-19-17 8-13-18-46 0-41-10-32 22-12-7-20 10-51 4-36-24-26-1-9-79 13-6-12-16 6-32-11-19 6-37-7-13 16-80-19-21 16-23 1-60-6-10-2-29 11-43 14-15-2-60M1032 3188l-17 18-34 14-30-14-14 9-33-2-17 17-21-9-23 8-20 17-31 2-29 17-13 52 17 32 17 17 1 18 18 12 31 37 0 43 19 26 17 3 18 26 12 4 19 25 26-8 31 9 9-6 17-2"/></defs><g transform="scale(0.1)" fill="none" stroke-linejoin="round"><use href="#trk0" stroke="#e2efc0" stroke-width="20" opacity="0.6"/><use href="#trk0" stroke="#ff1a10" stroke-width="8"/></g>
<text transform="translate(93.00,226.80) scale(1,1.07)" font-family='"Liberation Sans", sans-serif' font-size="14.5" font-weight="normal" text-anchor="middle" fill="#111" >NS+AL</text>
<rect x="180.00" y="231.80" width="152.00" height="151.30" fill="#d2b088"/>
<rect x="180.00" y="231.20" width="152.00" height="1" fill="#c8d0dc"/>
<rect x="218.00" y="269.62" width="76.00" height="74.14" fill="#d3dc8c"/>
<defs><path id="trk1" d="M1898 2687l19-49-8-43 4-36-11-50 7-54-5-47 115 17 155 36 90-17 36-16 52 10 141-45 44-4 47 10 45-7 43 5 112-29 45 11 53-2 59-15 104 6 36 17 63-6 29 13 52 1-16 56 3 42-20 106 14 51-21 46 14 45-3 52 15 78 5 55-10 40 29 44 7 52-7 94 23 56-2 50-31 28 3 58-26 77-3 81-49 34-14 22 26 50-7 41-38 2-34 13-36-3-24-17-48 10M3128 2633l-22 98 28 39 10 106-10 40 13 44-2 49 8 51-7 106-28 30-18 50 28 45 3 51-8 38 18 58 1 33-7 34 16 145-26-14-46-8-26 3-66-19-29-3-38 16-34-3-91 4-27 11-41-1-53-31M3285 3372l-5-112-31-53 23-44 12-47-16-59-1-45 14-54-7-107-29-57 17-42-18-41 17-57 3-46-34-29-18-43 1-46 17-27-8-72-65-2-4-25-60-3M3212 3315l15-37-14-58 38-142-33-89-4-49 39-162 7-55 18-57-6-46 1-104-10-38 6-30 18-36 2-58-98 36-77 44-99 0-23 4-43 22-39-15-11-52-37-19-31 8-19 15-114-11-45 10-49-13-53 10-40 0-58-18-58 2-39 43-54-10-27-31-25-9-132 8-37-26-94 17-27 18-45-4-32-29-43 20 0 58 5 154 20 111 22 73M3138 3690l51-41-12-60 6-93-26-28-4-71-36-90 12-52-5-49 17-30-4-45-10-44 30-38 23-46 3-102M2074 2396l-56-7-78-27-22 37-46-4 2 52-40 7 5 72-5 39 12 120-5 40 16 51 3 99 13 60M1845 3234l-1 60 39 36-21 48-16 61 41 33 11 41 21 29-11 50 28 27 6 29 23 24 25 14 76 28 47-15 40 9 54-4 37 21 25-22 41-21 39 35 41 21 78-4 58 7 51 16 188 0 61 11 57 21 40-22 54 16 62 7 33-29 54 9 47-3 18-23 43-11-21-46-1-38 44-105-15-35-34-42 44-72-39-55-20-53 22-48-3-49M2855 3792l84-23 43-51 38 1-10-52 47-20 45 6 28-3 19-33-18-54-23-142M2643 3689l-39-2-41 10-46 1-60-11-39-33-53 28-45 17-63-32-37 4-51-31-10-26-109 22-13-22-29-4-13-88 16-28 18-57-24-27 33-43-22-124M2075 3734l57-7 25 20 64-19 69 72 153-22 57-3 53 6 47-37 55 20 90-26 47 10 57 26 42-41 44 5 32-26 83-6 38-16 57 6 51 25 16-36-8-95 9-45-4-55 7-33 45-118M2710 3713l45-4 52 21 53-11 42 0 27-27 49 0 36-11 19 22 87 18 44-21 32-6 22-114 45-25-17-54 17-89 3-46-5-112-21-51 9-57 3-96 22-50 7-49-24-95-28-42 0-145 7-44-12-58-12-27 22-37 9-30-3-50-34-23-35-7-32 16-96 8-41 16-47-25-52 22-53-2-22-26-111 23-88-29-52 2-42-18-46 25-108 16-32 15M1868 3357l-31 119 9 50 16 30-5 62 36 29-29 29-3 35 22 43 35 13 33-1 113-21 108-11 42 18 47-20 46 19M1897 2565l-13-47-1-49-13-73 50 7 48-16 84 1 41 15 40 26 56 3 80-42 15 16 38 23 35 9 21 15 42-22 100 6 89-30 56 16 31 43 55-42 58-12 41 16 56 2 33 20 32 1 74 31 50-8 46 37-14 58 3 33-7 48 7 30-19 27 1 56 15 39-5 55 15 27-20 49-3 44 27 73-5 39 10 99 34 47-3 40-36 65 21 50 5 58-16 30-10 48 23 27 22 46-5 31 20 38 1 37-29 7-45 23-33-8-124 42-31 0M3191 2792l4-43-14-87 16-54 17-101 31-94-14-33-59 9-64 1-52 21-39-18-58 8-36-24-64 8-33-29-71 32-42-22-57 15-47-2M2456 3787l-40-41-44-8-30 21-86 4-46-3-18-31-79 23-31-22-32-12-95-7-19-22 0-48 17-109 14-32 4-29 38-53-18-22 0-48 7-42-3-46-21-28 33-95-19-42-6-34 12-41-11-41-33-49 35-39 11-32-7-43M3141 2517l17 25 13 36 7 42-1 47-49 70 23 22 3 47 21 34 16 41 28 41-15 43 9 32-10 56 24 54 6 51-20 46-3 52 15 39 12 55-19 46-37 26 25 39 14 88-13 26 3 93 19 19 19 54-88-24-25 11-59 2-61-9-50-30-60-10-34 33-41-16-53-8-94 33-75-13-50 30-48 13-57-10-40-14-57-4-38 13-56-8-149 29-42 16-42 7-37-6-35-20-35-8-46-23-27-58 12-54 12-24-3-84-27-43M1882 3164l18 95-7 46 8 49 45 62 6 36-52 61-12 26 15 60-22 38 40 26-20 41-4 39 15-4 64 4 57-17 52 6 60 59 55 1 110-33 150 13 56-24 43 39 44-11 65 18 41-14 56 7 52-8 50 9 81-33 61 24 59 2 115 16-11-62 30 8 41 0 40-9-20-53M3276 2428l-6 36-25 21 3 51 12 57-24 33 9 32-16 52 20 77-3 64 27 86 6 48-43 58 28 52 16 48 1 50-26 41 19 62-26 91 12 53-6 87-30 32 16 65 2 61-4 26-22 35-40-3-25-22-45-21-75-21-30-31-42 9-57-23-33-1-33 20-49-8-32 37-37-6-76 32-58-10-144 56-33-23-58 3-36-24-45-12-31-28M1902 3429l4-55-20-73-4-106-21-46 24-40-30-114 52-29 14-59-14-34 19-51-25-26-22-36 15-39 7-40 13-35-3-87-15-30-8-37 24-52 35 0 52 17 57 9 25-22 59 18 50 5 22-51 39 18 67 11 31-1 50-23 45 22 51-21 51-5 47 3 40 13 46 34 44-25 50-7 25 35 50-11 37 22 21-14 78-11 52 7 70-34 3 39 80 1M2457 2374l-59-11-79 37-69-36-50 12-33 22-33 31-87-40-41 2-18-23-38-9-113 12 27 31 17 64 11 22-14 59 7 31 33 40-21 50 50 62-11 38-18 35-10 87M3244 2803l-41 63 1 45 26 46 14 41-6 97 6 54 26 92 6 114-29 21 13 61-32 52 1 29 25 70 2 102 16 53-8 52-89-2-111-50-36-4-43 19-38 27-90 5-53-2-63-29-44-9-57 26-111-41-47 34-37-13-51-37-46 20-37-8-68 12-30-21-40-3-129 51-105-6-34 14-28 3-25-19-4-92 7-58-11-64 14-38-20-51M3224 2403l-52-3-141-28-57 8-94-4-93 20-167 15-95 17-25-5-50 5-38 12-81-5-29-11-37 2-76-21M2697 2414l-62 67-17 35-27 17-43 42-36 25-36 57-34 34-8 28-61 70-6 28-39 22-20 22-89 142-62 124-34 45-12 69-44 43-18 46-30 115-28 62-12 46-2 46-16 42-22 116M2328 2382l26 78 16 22 7 44 21 30 7 30 26 58 102 148 23 44 34 11 32 43 44 29 36 54 49 22 16 23 57 35 31 36 54 32 77 96 42 31 52 62 28 18 43 66 78 83M2368 3760l42-28 24-2 71-30 60-11 26 3 92-16 72 1 39 20 23-2 90 18 28-6 42 20 38 0 140 21 101 9M2064 2437l26 15 28 37 28 10 36 25 29 57 25 31 29 15 36 63 29 36 24 63 49 51 19 44 44 69 30 93 56 101 14 56 29 63 61 108 55 157 35 30 42 89 30 11 5 39M3157 3766l-22-78-21-32-3-36-32-103-31-49-5-28-31-52-76-99-15-37-32-32-18-27-69-66-48-63-25-8-40-50-50-39-49-30-42-43-58-29-76-81-21-45-48-47-66-109-6-23-46-93 2-31-7-47M2289 2367l18 21 34 74 38 33 14 29 48 44 36 74 46 53 32 17 66 98 27 16 43 50 26 10 36 32 53 35 115 143 51 30 54 39 20 36 49 31 32 36 46 74 55 59 3 33M3081 2372l-18 108-20 50 3 44-13 43 4 25-15 51-11 19-11 46-2 41-38 104 3 21-25 63-46 165-22 48-4 61-33 51-11 58-22 46-8 60-29 91-34 33 13 40-19 34 5 35-29 46M2998 2392l-49 69-94 89-48 72-18 39-92 93-54 70-37 28-51 77-28 11-21 44-38 33-17 27-35 34-71 89-31 25-56 72-16 33-40 44-41 33-63 75-29 48-68 69-18 42-27 27-39 55-8 36-31 33M2112 2363l10 45 29 63-3 32 6 73-14 128-62 175-47 96-20 19-10 45-53 79-5 24-60 47-25 40M1989 2413l4 33 18 48 1 77 18 56 12 79 3 106 16 57-7 50 19 58-1 54 12 40-4 53 16 48 2 47 13 32 8 68 26 41 7 47 25 50 19 55 24 24-11 24 45 77 23 17 9 42 16 21 21 45M2497 2373l-9 37 3 81 25 55 63 74 42 45 41 35 41 50 77 54 29 7 32 22 25 31 56 28 95 73 84 80 49 28 49 76 37 31-1 50-16 43M3213 2540l-24 28-96 49-70 68-45 33-114 60-37 43-34 18-60 61-41 4-60 34-88 82-26 17-48 9-23 28-20 14-44 18-28 38-65 21-45 23-44 33-86 32-99 52-87 32-35 23-52 3M3075 3758l-17 29-38-13-23 17-114-5-50 7-34-10-79 8-43-9-85 6-115-16-96 10-67-6-15-11-51 12-41-6-36 0-44 15M2993 2373l14 28-11 41 9 124-28 136-30 74-6 38-25 77-35 91-32 43-58 115-35 46-10 58-40 40-25 77-30 47-33 112-29 22-8 36-39 108-1 59M1879 3206l49 57 54 49 62 42 34 37 32 21 42 12 35 35 32-3 30 26 83 31 33 27 45 0 34 45 40 27 33 9 30 36 37 17 29 35 60 52M2509 3764l-108-59-133-108-33-17-34-40-16-33-109-88-51-62-21-16-40-54-12-34-32-18-26-31-23-18-17-26M3267 3388l-12-54-30-23-28-96-92-117-21-41-76-86-48-36-70-93-51-32-39-50-79-51-22-24-31-22-34-18-18-31-57-25-59-65-33-6-37-29-19-27-35-33-38-8-64-45M2112 2380l36 27 35 10 26 29 28 20 28 11 32 31 104 70 18 34 20 19 87 61 14 51 28 32 38 31 26 34 44 77 7 29 26 27 42 72 45 121 34 59 2 35 31 69 6 54 20 35 39 175 23 33 1 41 51 56M2312 3772l120-97 32-15 23-23 45-8 66-40 59-21 46-6 26-15 43-7 40 4 73-13 28-32 39-5 48 6 57-37 46 0 44-32 104-34M2436 2379l76 90 74 102 4 34 31 19 33 46 26 51 36 53 17 60 38 46 12 54 86 105 25 54 4 21 18 34 22 19 50 92 3 20 29 42 63 61 16 26 10 38 23 20 15 24 31 26 14 28 27 31 38 33M1858 3197l64-8 50-18 55-4 56-22 64-11 159-50 60-10 60-19 101-17 54-26 66 1 50-22 124-1 53-14 36 6 32-9 61 7 30-9 101 19 139 12M3237 3064l-41-12-171-2-56-18-64 5-162-21-62 9-148-11-46 6-49 15-62-1-36 14-39-8-55 24-53 5-49 18-22 1-29 30-169 79-37 32M3274 2671l-27 26-77 107-33 30-13 36-245 218-91 70-162 106-44 14-187 104-37 2-28 9-34 21-38-1-43 9-44 21-60 8-50 18-120 2-44 8-37-9M3275 3423l-53-148-27-37 14-43 2-34-23-35-19-84-4-55 10-50-14-23 6-38-6-57 22-47 6-69 11-25 4-42 14-28 7-38M1862 2812l35 29 42 21 90 74 44 17 37 34 52 12 17 18 49 4 20 17 28-1 45 19 27 19 138 27 30 21 27-4 44 15 43 6 33 17 28-6 39 14 28-12 31 1 40 21 21 4 85-1 50 9 112-23 88-3 35-22M2417 2367l17 31 5 72 20 24 55 131 6 42 44 91 42 50 13 39 27 34 21 48 24 33 19 41 85 60 59 53 140 96 192 63 26 20 23 2M2568 3772l-4-47 23-60 16-85 42-89 47-81 68-54 22-28 44-37 69-48 36-44 40-32 42-13 31-40 75-62 66-89 45-31 44-59M1885 3216l20 13 38-20 42 6 48-8 96-36 56 1 55-22 29-1 66-18 38-1 35-12 96-15 41-18 23 4 37 17 73-30 76 13 107 1 23 6 29-7 41 12 54 29 47 16 36 29 45 4 28 19 33-2 18 40 49 53M1858 3145l99-34 86-39 126-31 53-25 45-13 39-26 51-17 125-64 102-62 35-28 54-24 21-22 32-9 58-50 40-14 90-75 50-33 57-27 162-109 39-5 25-33M2679 2387l-20 46-30 179-29 61 0 57-36 51-4 74-23 43-5 40-15 41 5 28-4 43-12 52-22 56-10 66-17 61 9 43-29 134 23 156 1 108 16 56M1875 3635l-9-18 37-29-4-17 57-65 46-23 81-54 25-28 39-14 183-116 36-7 31-26 42-14 106-67 34-8 74-56 37-5 75-57 131-38 178-102 45-15 30-34 34-5 37-35M2372 2413l2 37 16 16 131 216 25 19 16 38 26 18 20 37 26 27 43 60 21 43 72 57 30 67 48 56 23 50 27 10 32 27 53 75 27 21 21 25 34 64 31 25 13 23 50 38 42 40 20 26 12 33 26 13M2895 3731l24-40 67-67 38-51 16-44 50-81 28-71 26-43 20-131 19-40 8-48 14-28 11-50 1-102 13-40 2-90 27-58-8-48M2482 2374l27 173 25 55 30 41 17 63 23 21 31 67 26 33 43 36 27 45 35 33 50 29 19 37 43 29 31 30 45 10 35 47 54 15 27 29 99 54 58 8 27 27M1874 2414l28 15 39 11 27 32 32 16 171 151 41 51 51 48 30 17 8 36 32 15 13 40 35 22 31 28 1 39 28 14 26 30 41 30 21 30 7 32 50 56 20 8 55 67 16 36 37 12 91 83 69 49 52 58 35 17 30 23 77 35 82 60 93 23M1884 3730l-6-48-14-46 0-49-15-45 14-89-14-53 20-91-9-21 11-57-6-36 13-42 7-93 16-59-1-63-13-56 0-130-10-26-4-147-20-35-12-77M1933 2791l52-4 46-26 100-36 48-32 102-30 51-41 174-74 39-26 47-14 57-35 59-14 52-35 88-28 43 3 55-19 39 6 37-5 81 12M2644 2385l-98 6-46-13-63 31-43-10-63 19-47 1-188 26-61 34-42-10-32 16-17-10-40 2-51 13M1848 2546l6 43-8 27 0 67 7 68-14 62 8 48-14 35 14 37 0 89-7 33 3 46-6 24 17 109-13 26 4 38-6 49 19 75M3251 3711l-38-31-40-46-31-46-74-62-31-13-22-33-32-12-78-56-43-22-22-33-46-17-29-40-36-14-31-23-62-64-50-19-74-51-17-31-93-47-15-25-40-42-45-29-24-5-42-31-58-63-159-146-11-53-47-26-26-23-35-82-34-19-26-29M2416 3783l-45-32-41-43-23-40-30-22-49-87-13-51-27-56-15-156-30-104-11-58 0-65-24-98-26-48-32-108-56-100-90-75M1847 3189l90 56 47 6 142 61 46-6 39 18 52-8 52 1 43 11 54-9 123 6 51-11 69 9 60-8 37 3 39-13 128-8 77 2 27-11 121 8 76-6M2266 3782l-6-109-13-56 30-66 3-33-7-35 12-81-3-85 17-88 4-44 12-34-5-105 19-43 3-30 14-49-10-36 16-45 0-54 16-72 7-73 11-38-10-22 20-74 6-118 21-23-14-4 7-15 7 31M2581 3758l-86-13-27-25-58 2-41-23-37-4-60-26-18-13-43-13-61-28-18-17-97-47-13-18-27-19-20-7-35-34-31-52-36-18M2241 3779l-8 7 13-15-11-16 14-82-3-47 5-117 15-74-2-37 9-84 13-34 14-71-4-45 5-47 30-83 11-118 49-194 26-32-1-34 10-48 14-31 13-59 40-60 18-52 42-36M2089 2399l-1 31 24 33 1 37 19 40 8 55 0 44 25 87 56 120 25 40 1 37 52 70 9 35 22 26 15 42 21 31 34 29 9 28 49 63 13 28 86 83 30 12 16 34 30 13 48 53 66 39 58 43 21 30 87 20 31 22 31 5 29 26 51 8 34 31 31 16 29 2 49 17 65 31M1886 2639l13 34-6 59 20 48 71 109 29 54 112 96 48 56 59 47 21 35 79 39 19 25 32 23 83 51 20 21 83 47 31 34 39 6 78 36 48 37 36 7 79 33 98 61 39 12 47 0 99 35 29-7 34 7M2230 3399l17 18 9 19-1 33 12 7-1 26 20 52 30 12 30 39 6 17 22 14 27 54 21 20-2 16 24 15 4 16 24 22 26 11 7-7 39-2 37 7 61 1 4-8 44 8-8 0 5 6 8-9-12-2 16 18M2843 3341l-11 35-1 25-57 41-35 13-31 29-28 17-25-2-23 15-6 13-57-12-16-23 0-42 20-48-5-5 13-19 71-61M2756 3059l-28-10-3 23-76 17-70-22-34-29-7-29 0-50-28-36 19-18-18-54-23-5-21-20-23-2-3-23-21 2-38-30-23-10-70-7-22 6-40-11-33-58 13-24-36-36-3-20-23-17 10-40-14-23-7-48-55-62-29-64-10 14"/></defs><g transform="scale(0.1)" fill="none" stroke-linejoin="round"><use href="#trk1" stroke="#e2efc0" stroke-width="20" opacity="0.6"/><use href="#trk1" stroke="#ff1a10" stroke-width="8"/></g>
<text transform="translate(256.00,226.80) scale(1,1.07)" font-family='"Liberation Sans", sans-serif' font-size="14.5" font-weight="normal" text-anchor="middle" fill="#111" >NS+ADF</text>
<rect x="342.00" y="231.80" width="152.00" height="151.30" fill="#d2b088"/>
<rect x="342.00" y="231.20" width="152.00" height="1" fill="#c8d0dc"/>
<rect x="380.00" y="269.62" width="76.00" height="74.14" fill="#d3dc8c"/>
<defs><path id="trk2" d="M3993 2377l47 5 54-22 52 11 103 5 54-11 46-18 46 29 54-10 96-4 40 18 61-14 111 14 99-8 35 15 20 41-16 161-21 64 0 48 14 90-13 60 7 49 0 56 19 40-23 104 10 45 24 63-20 48-4 102 22 49-27 43-9 42 23 119-11 42 6 45-3 61-97 12-32-10-28-22-41 28-50-16-50-3M3477 2750l-9 44 5 62-10 42 14 102-22 62 16 96-6 55 5 44 24 96-2 48-18 101 23 35-5 54 8 57-21 70 6 37 30 24 52 0 72-31 82 21 102 10 51-5 44 7 59-8 47 1 156 23 96-36 102 4 43-16 42 11 96 10 25 24 65-3 32-34 53 35 55-4 63 11 45-17-12-52 5-52 10-33-24-32 6-45 15-43-5-54-13-55 10-62-34-47 10-58-5-41-12-38 0-58M4849 2444l10-51-38-5-46-37-71 43-137-9-55-21-53 32-33-23-47 6-61-7-58 14-41 2-100-17-60 2-41-17-66 0-44 14-92 2-45 17-51 3-23-7-30-26-49 8-36 12-71-6-9 28-9 99-12 40 18 55-8 42 8 68 16 50-7 43 18 192-17 142 9 48-19 58 33 92 28 28-15 53 27 35-14 30-6 99 6 39-2 50 28 29 17 4M4847 3767l23-23-3-61 23-91-34-108-6-102-10-57 29-34-28-52 31-68-1-139 20-47-25-48 13-108-5-37 6-58-18-47 41-121-18-42-6-42 10-66-18-31-112 15-33-34-44 18-68 0-38-21-209 9-55-2-44 15-57 10M3574 3721l-36-12-16-41 8-45-9-88 26-108 0-48-18-33 41-60-20-41-6-85-9-39 14-108 17-42-11-34 10-47-36-105 0-49 16-39 0-41 24-33 3-51-33-45 10-42-1-49 102 2 52 22 53 6 139 4 26-11 57 1 92-16 49 16 37-1 39 14M4090 2466l-51-14-47 11-88 4-88-31-89 25-76-3-32-14-86 1-27 31 0 47 19 45-1 51-16 102 1 139-40 93 0 52 30 94-2 49 8 53-16 48 9 54-1 105 12 41-26 110 0 63-27 59 16 46-15 61 80-29 73 25 102 6M4860 2388l-80-24-30 1-153 36-46-3-98 12-55-8-113 23-35-14-51 17-59-19-35 12-45 2M3509 3262l10 60-8 78-21 63 18 91 3 54-10 94 11 38 31-15 40 0 50-11 30 13 56-12 39 17 56-26 191 0 43-17 52 8 42 15 91-18 34-13 52-2 43 3 57 19 49 25 27-43 48 3 39-7 56 11 51-7 35 9 70-15 16-37M3481 3016l24 55-28 44 3 106-27 54 0 43 13 55 3 98 25 75-19 68-10 60 4 93 121-15 43 20 50 10 19-7 21-23 66-8 39 20 49 6 106-4 42 13 58 3 45 1 44-16 41-4 112 24 157 5 51-20 52-7 39 14 57-3 116 8 40-6 61 12-12-124-13-43 0-49 19-46-12-49 29-50-22-62 14-86-6-48-21-61 19-44 2-53-6-97-18-56 7-41-14-114 14-54 5-49-24-22 5-71M4021 2387l97-1 101 24 42 5 42-7 59 0 49 13 45-1 42 29 50-27 49-10 45 27 45-8 15 27 51 11 29-8 8-18 15 102-11 44 7 48-14 53 3 43 13 39-8 36 8 44-2 57 45 37-14 43-1 59 14 37-5 39-22 51 23 40-8 56 8 59-20 29 20 156-4 42-18 29 9 54-8 47 8 39-47 11-57-4-38 11-116-33-32 20-62-8-42 4-42-7-43 11-102-9-52 11-45-7-50 8-91-8M4892 3020l12-56-9-41-3-59 14-54-49-30 6-57-4-39 10-52-2-40-33-50 15-53-5-36 5-48-85-4-79 11-89-2-48 15-36-23-63 17-81 0-54-15-94 6-62 11-43-5-41 33-93-15-51 1-112-46-31 25-111-25-47 19-51-15-83 7-13 58 20 51-21 54 17 43 9 198-14 49 15 48 9 52-28 43 8 50-11 55 29 49 7 37-20 56 16 47-12 42 3 56-12 48 17 25-10 108M4623 2366l54 7 92-2 48 9 51-2 10 50-16 25 1 32-17 50 2 60-7 95-23 50 5 49-20 99 2 45-11 80 31 143-16 51 2 88-5 40 12 36 3 109 24 51 13 121-15 28-6 47-36 10-92-9-42 8-59-11-60 10-25-1-55 13-50 0M3470 3460l1-50-8-51 14-49-9-48 24-60-14-54 31-48-4-45 13-53-10-49-16-42 21-50-21-54 21-47-26-110 30-78 0-43-17-63 12-59 129-20 9 19 43 7 37-5 55 10 103-8 36 8 121 13 22-11M3544 3706l57-12 47-2 39 15 100-21 34 7 101-11 25 7 115-5 19 19 54-15 47 4 29-16 64 26 84-7 45 9 51-18 48 20 31-14 53-7 43 14 34-16 53 7 33-24 54 13-1-132-12-86 37-121-19-55 36-34-4-56-32-42-7-95 12-97-15-36 5-85-14-33 2-94 16-62-10-29 0-42 16-102-27-27-42 14-60-4-35-9M3992 3762l43-2 113 17 44-3 47 6 55-40 46-5 38-13 55 19 31-39 90-3 37-19 92 12 44-9 49 18 28-13 8-104-19-43 36-18-8-54 8-57-3-48-17-97 10-37 35-55-17-39M3513 3324l-26 63 35 86-19 83-15 28 8 46 2 54-7 58 163 4 88-24 27-16 34-9 53 4 40 14M3642 3754l62-26 38 20 110-17 90 7 57-1 48 13 40-7 54 15 43-14 48-6 55 7 57-17 34 3 36-6 59 5 103-3 115 30 86-4 45-14 42-16-10-37 22-96-11-53 0-38 25-57-16-54M4496 2388l-44-2-48-10-54-23-33 14-60 4-54-13-53 3-46 20-54-13-43 5-62-13-38 16-56-7-110 0-46 20-48-9-23 46-55-17-30 0-25 39M4886 2636l-1 122 17 30-20 59-6 44 4 46 15 48-5 63 10 43-17 51-4 56-26 45 30 50-24 56 27 98-15 54 17 97-15 43 0 46-21 43-32 7-26 19-76-9-50-25-53-4-109-31-97 6-47 15-78 12-99-35-43 24-54 10-38 1-50-21-93 9-39-25-36 0-61 11M4867 2709l-18-34 7-54-28-32 2-59 9-38 2-68-13-15-106-5-91 13-50-16-50 10-94 1-89 12-55-7-44 11-44-22-105-1-93-21-81 33-48 2-53 15-81 2-41-6M4308 2387l-45-2-67 24-44-6-47-27-52-2-45-11-207 25-180 5-117-9-11 47 6 56-19 37-28 143 22 45-6 65 8 59 17 45M4860 3546l9 52-6 110 16 62-34 7-38-5-41-19-142-3-45 11-57-15-145-11-44 17-55 5-50-7-41 10-47-7-49 15-63-6-28 4-13 32-42-30-55-13-101 7-59-5-13-27-58 8-62 18-44-9-57 12 8-110-24-36 43-109 1-69-18-36 26-46 25-64-1-132 6-48-12-42 17-54-4-127-22-46-3-38 18-138M3684 2417l22-10 33-29 57-16 53-5 93 12 72-7 137-3 98 15 47-21 168 9 34-10 44 8 150 9 37 53M4860 3050l-28-34-80-68-69-17-23-20-105-7-19-8-69 3-62-8-28-10-32 12-39-1-47-16-43 7-33-6-28 14-37-8-88-3-50 10-29-10-40 14-31 3-63-13-71 4-111-10-38-10-54-27-8 3-30-61M4876 3490l-5-28-30-38-18-40-23-14-3-31-55-93-6-42-18-36-28-28-30-68-8-38-33-43-10-25-46-51-50-106-23-31-21-17-13-41-155-123-94-50-148-46-33 1-37 12-18-13-47-2-24-8-50 12-77-12-135 13-52-12-18 9-36-9-39 5M3879 3775l25 10 25-5 24 8 74-6 36-15 41 8 36-10 49 1 52-7 75-28 86-11 48 2 117-29 83 2 103 18 13 20M4847 3573l-80-91-33-18-20-29-46-40-8-35-60-126-13-39 8-46-5-61-17-90 9-51-1-72 16-84-2-42 18-55 14-96-8-46-15-43 1-51-9-40-20-46M4173 3764l-9 18 27-2 14-16 12-35 22-26 1-54 49-100 15-45 1-26 45-118 4-30 27-40 25-69 4-47 10-40 25-49 3-37 19-49 0-38 8-49 51-139 11-82 18-46 24-135 35-85 3-42M4869 3102l-66-14-45-25-32 14-40-1-122 36-69 25-31 18-35 9-76 49-23 7-157 82-27 29-41 23-31 9-57 46-36 6-33 14-29 25-39-3-28 35-34-5-112 29-83-11-46-20-32-31-15-57-24-36 7-38M4873 2473l-115-44-110-17-58 6-34 12-45-3-43 9-42 12-74 31-81 19-47 23-32-14-53 19-10 11-56-37-27-11-7-31-26-26-9-48M4832 2778l-50-102-29-23-16-24-49-8-51 14-33 26-54 3-43 47-59 23-25 35-28 16-34 36-60 44-82 89-43 15-29 40-38 15-161 145-60 11-15 44-44 15-46 26-26 24-48 23-32 30-31 15-57 9-33 14-52 6-42 13M4782 3776l-70-26-31-27-55-23-38-27-42-42-95-52-102-65-60-24-51-36-59-13-38-28-79 7-17-15-43-9-70 8-16 12-33-4-74 5-89 35-22 19-40 10-36 16-38 33-36 17-34 51-30 21M4026 2388l18 31 29 94 43 67 15 53 26 40 21 21-1 25 21 19 23 57 40 35 7 46 28 27 37 71 32 33 99 149 50 58 23 38 69 91 63 118 3 45 20 83 3 44-8 72-15 44M4358 2363l5 54 12 29 1 49 56 125 49 62 27 49 32 17 21 48 32 32 42 24 44 78 31 29 50 77 30 30 34 63 16 54 20 27-1 33M4863 3537l31-7 16-24-23-84 5-43-10-154-28-39-3-33-26-88-61-67-5-34-53-89-7-24-23-30-17-42-71-81-8-34-33-36-15-28-37-29-25-40-8-37-72-62-32-40-40-19-39-7 0 66M3490 3417l91-27 24-26 55-28 22-6 155-78 72-14 102-58 27 2 39-20 32 0 36-28 63-10 26-13 31 1 164-79 164-44 119-60 42-4 60-40 37-16M3763 2420l67-9 91-37 92 0 102-24 77 23 89-12 38 3 42-11 61 17 125 14 30 11 25 52 65 29 10 28 64 90 11 72 19 56 7 62 23 24-2 38 9 35 7 68-2 38 19 39 5 48 19 28 14 87 2 51"/></defs><g transform="scale(0.1)" fill="none" stroke-linejoin="round"><use href="#trk2" stroke="#e2efc0" stroke-width="20" opacity="0.6"/><use href="#trk2" stroke="#ff1a10" stroke-width="8"/></g>
<text transform="translate(418.00,226.80) scale(1,1.07)" font-family='"Liberation Sans", sans-serif' font-size="14.5" font-weight="normal" text-anchor="middle" fill="#111" >MPTP+AL</text>
<rect x="504.40" y="231.80" width="152.00" height="151.30" fill="#d2b088"/>
<rect x="504.40" y="231.20" width="152.00" height="1" fill="#c8d0dc"/>
<rect x="542.40" y="269.62" width="76.00" height="74.14" fill="#d3dc8c"/>
<defs><path id="trk3" d="M5151 2996l-15 46 13 45-11 57-2 50 12 36 2 52 20 81-13 35-32 34 14 39 4 87 9 36-13 108 27 24 35 14 31 21 61-15 60 5 23 32 59-6 51-14 95 18 52-6 52-14 41-24 108 18 51-28 43 34 119 7 53 29 91-31 37-6 45-27 37 23 34 7 171 24-3-41 16-33-16-72 6-53M5150 3761l-57 3-13-139 7-64 1-100 22-64 4-92-14-59 21-51-15-100 5-48-10-47 19-51-4-98-11-62 9-44-14-52 11-49-27-56 9-63-3-37 31-36-14-60 53-1 20-22 49-11 107 4 133-5 36 16 40 9 45-29 56 22 42-20 66 10 43 39 52-16M5993 3788l-158-35-45-18-105 13-50-19-45 36-105 5-91-33-37-1-79-29-51 4-56 15-10-36 19-34 26-107-17-20-1-53 16-81 25-34 16-53-18-25 41-36-44-40 5-46M5382 2413l-53-4-35 21-52 9-56-9-41 3-5 38 16 69 1 39-19 90-4 52 11 36 13 17 55 167-5 42 26 38 4 45M5176 2963l12-52-5-40 6-97-9-80 21-39 6-48 13-27-2-33 30-16 87-3 25-28 144 22 21-12 57 19 44-6 34-13 34 8 60-8 39 6M5156 3352l29 78-1 40 16 30-22 55-7 56 38 22-2 45 31 9 36-4 50 12 38-12 235-11 26 20 57-5 41 12 49-28 33-4 56 41 43-7 29-30 53-13 77 18 53 21 48 3 43 17 121 5 33-5 25-34 43-1-3-40 18-22-28-75 6-45-21-54-5-34 30-35-11-42 9-59-18-39 0-92-25-37-10-37-23-46 23-39-4-35-13-44 20-89M6485 3606l-4-114 20-35 5-55 21-28-14-183 18-46-30-108M5749 3758l-47 6-50-4-39-15-64 8-86-11-51-23-16-36-80-14-33 15-22 21-35-12-28 21-56-10 20-18 24-51-32-30 11-44-41-18-2-35 16-65-10-99 13-197 26-47-35-52 15-36-31-67-2-96-29-49 4-63-8-41 39-30-15-61-6-67 35-15-20-57 33-27 7-35 63-2 40 11 43-11 52-23 68 38 46 0 58 26 36-27 37 33 44-50 38 25 117-13 43-45 59 10 45 23 50-28 107-1 96 14 53-11 48 16 38 2 69-17 71 3 36-13M6496 3587l13-40-11-61-1-52 8-95-15-62 3-40 15-45-13-118 23-41-10-56 13-61-15-46-26-42 15-156-39-76 21-56 3-29 22-37-6-30 16-36-47-10M6432 3654l3 46-73 25-36 2-88 24-35-15-18-15-68 7-30 20-41-2-59-19-44 13-60-44-38 11-45 22-56-36-38 6-45-9-20-45-66 17-39-1-41 19-44-22-36-9M6265 2392l51 11 19-18 53-10 40 7 50-10 31 24 14 43-15 26 7 77-6 62-19 29-4 33-2 106 10 81-6 59-20 50 19 37 6 53-21 57 3 42-34 51-13 42-3 45 10 43-25 39 7 28-21 42 5 41-41 17 12 40-17 34 28 62-54 2-98-16-11 21-52-6-28 18-93 16-22 26-45-5-51-41-38 9-40-1-49 24-44-9-43-54-70 10-88 4-103 28-170 5M5201 2780l4 41-29 21 7 62-46 87 23 48 16 127-27 63 29 27-16 56 14 40-9 47-25 65 29 23-40 91-3 42 15 29-10 61 79 6 115-24 32 11 61-13 89 2 35 13 43-9 47 10 94 2 38 6 53-12 26-27 62-12 44 37 91 29 58 32 49-10 33 11 72 5 61 18 48-10 21-40 47 28 30 0 4-36 32-13-10-71 17-33 7-94 12-51-25-59 11-52-4-46M6421 2546l-22-29 24-47-73-5-27 13-66 10-28-25-52 17-40-11-45-4-120 4-50 20-47-2-53-19-33 13-45 5-91 26-55-6-9 18-49-22-48 2M5654 2441l-47-6-83 14-59-4-42 22-53-33-103-8-113-21-1 34 12 30-2 46 20 28 18 48-6 20-28 47 13 54-14 40 8 41-40 45 11 39 30 60-59 181 27 66M5461 3753l40 19 54-44 60 4 56 21 34 27 96-62 57 26 35 27 61 16 42-20 67 13 40-3 57 8 94-21 48 8 62-10 89 4 56 11 4-46-5-33-25-37 17-49-26-56 13-99-42-144 25-51-14-46 15-103-28-37-5-50 9-48 17-39-16-55-5-42 7-38-35-35 38-69 18-16 14-90-25-33 9-58 15-48 3-38 15-44-54 11-37-6M5120 3620l7 41-16 63 8 46 91 18 280-15 48 19 58-42 45 14M6483 3132l-33-38 25-107-9-56 2-54 13-42-23-38 3-40-6-47 12-45-9-49-16-47 0-40-21-30-5-29-20-26-62 22-80-14-33-18-43-11-33-39-45-2-44-24-62 20-25 20-73-14-43 13-50-4-101 22-44-9-44 28-48 2-48-20-33 45-35-1-43 21-37-4-53-20-31 18-26 6-32 37-8 28 23 59 5 42-24 27 27 50-49 17 8 52 27 44-21 80-17 40 47 95-3 82 8 40-15 34-6 42M6467 3383l15-8 11-42-35-62-64-84-34-67-56-54-19-30-32-20-18-28-38-11-26-35-68-58-70-37-35-34-56-23-66-42-41-10-83-49-77-19-26-19-170-37-19-16-41-8-74-3-37 13-31-4-67 6-43-11-41-3-29 13M5268 2397l2-5-29-7-27 10-16 16-14 36-22 19-38 95-20 32-13 50 7 53-8 130 0 52 7 39-8 69 5 22-18 20 19 10-11-6M6466 2367l-73 14-30 16-73-4-106 34-33-3-25 11-68 17-52 6-34 10-32-1-38 26-34-10-45 23-240 34-29 16-49 11-156 68-14 31-9 51 9 104 18 53 9 53 18 26 11 41 43 79 10 76 29 59 7 51 21 72 22 40-18 25 35 102 0 70 18 60 9 126M6011 2393l-45-16-81-9-28 4-83-16-105 31-73 37-57 49-37 91-32 44-7 37-20 54 1 57-30 46-13 51-62 123-18 52-67 101-44 41-32 46-30 22-23 29M5486 3761l-4-41-12-25 13-47-6-40 12-47 7-77 51-78 1-27 49-63 25-45 51-42 16-33 39-22 19-39 35-18 48-48 70-48 13-22 39-11 17-29 45-36 13-17 44-25 25-26 39-11 19-21 38-18 56-55 38-28 47-56 28-15 30-38 27-16 48-50 37-55M5253 3706l131 25 31 20 26-7 41 9 40 17 92 24 91-12 69 5 64-3 52 8 30-6 105 1 15-7 11 6 14-11 23 12 66 6 54-11 51-1 41-16M5366 2393l-29 39-4 71-21 45-10 57-20 49-1 69-18 36 10 32-17 28-2 63-9 40-42 91-4 48-27 56-9 38-2 34-11 32-19 43-17 21 2 53M5108 3007l26 60 57 61 30 57 14 16 35 24 56 62 101 52 36 13 59 41 69 12 45 19 34-4 51 17 58 4 58 14 35-6 99 18 30-4 60 5 107 18 51 19 43 24 74 69 29 46 22 44 0 39 12 37M6513 3019l12-26-8-11 4-23-18 17 23 15-10 22 12 127-8 42-89 145-32 43-16 36-88 121-20 43-46 38-73 88-45 29M6246 3743l-32-11-42 8-33-8-25 1-66-19-93-45-136-107-72-90-24-56-63-60-5-37-30-29-29-41-15-25-10-43-33-48-17-56-26-28-63-108-1-30-25-22-18-51-21-37-41-32 2-16-29-34-4-37-26-30-35-70-29-30-37-70-31-19-20-48M6227 2387l-65 22-38 44-58 32 0 16 17 13 9 18 24 9 3 21 46 13 32 44 24 45 33 20 5 69 16 59-9 35 2 29-17 42 3 32-22 36 5 32-10 69-44 80-8 42-40 53 7 31-25 21-11 46-30 23-6 30-14 26-38 54-26 20 1 36-46 74-46 59-55 102M6505 3136l10-9-38-21-37-5-170-69-25-29-145-41-22-22-45-13-71-41-44-8-36-27-115-50-28-21-121-57-76-43-38-23-32-31-31-13-124-95-31-17-19-19-14-35-35-18-26-66M5976 2383l-4 36-49 72-15 42-28 28-30 2-22 9-25 23-68 1-51 17-18 15-89 12-127 57-49 45-52 9-71 75-22 42-46 22-7 16-30 32-23 41-33 34-20 54M6173 2366l-21 27-35 95-35 26 6 43-28 48 5 42-36 93 7 31-18 44 7 17-18 33 2 62-13 57 11 53-6 49 16 79-4 36 8 89 19 39-3 49 31 42-9 28 30 68 23 71 21 30 16 37 81 92 31 26 35 12 80 10 34-4 83-68M5728 3767l-28-27-89-46-65-59-38-8-21-35-25-12-38-39-42-24-61-83-23-62-29-52 0-89 5-45 46-89 9-40 26-34-5-69 30-32 7-60-16-100-19-60-58-99-99-104-30-19-23-40-45-18M6435 3451l-6 41-29-9-52-42-46-28-36-58-23-14-111-125-11-25-29-29-51-76-28-15-15-28-76-79-81-63-25-40-30-19-12-25-42-56-134-117-11-21-40-33-31-9-62-71-41-20-67-47-40-14-26-22-36-16-39-1-30-19-48 0M6224 3744l-47-35-41-13-47-2-42-26-37-15-88-7-37 3-49-19-68 2-60-11-124 19-44-24-141-26-258-105-28-23M5703 3772l-24-23-24-34-10-27-29-41-33-20-21-40-73-92-32-32-34-51-35-69-33-22-9-23-66-66-19-42-44-61-12-25-25-23-6-26-66-86-6-53-13-16 5-38-6-39 6-27-11-26 2-24-6-18 14-10 10-53 25-5M5101 3007l-18-32 10-81-8-73 4-64-4-26 14-102-15-22-5-37 13-23-10-17 12-54-7-42 36-8 1-19 57-14 17-23M6427 2433l-26-4-44 14-86 13-62-9-44 11-25 19-32 10-107 67-48 36-81 92-69 111-19 57-50 64-2 27-17 36-44 65-30 69-30 28-20 45-31 38-11 42-38 26-110 140-17 32-49 34-33 40-16 40-37 11-17 19-44 20-20 39-28 21-30 6-9 32M6177 2382l-27 11-31 35-50 39-30 11-43 58-26 40-17 56 5 41-16 48 14 42 32 35 28 43 51 101 45 36 23 32 37 69 16 63 27 52 9 33 27 35-2 66-8 30 4 39-14 74-3 46-38 82-45 74-14 42-24 26M5113 3636l0-46 20-31-21-31 16-26 5-81-5-37 14-39-5-39 20-34-5-39 36-116-6-20 17-36-7-37 3-40 26-48-8-23 26-77 26-42 0-40 18-44 26-33 1-38 30-18 8-43 65-91 18-17 17-38 30-23 21-28 55-18 124-7 49 10 77-9 68 12 31-9 52 18M6101 3032l40-5 50 16 22-10 29-37 27 5 27-18 28-52 15-4 12-57 33-30 8-20-6-17 16-66 36-9 14-37-48-63-20-102 8-25-6-10-12-14-23-12-21-3-22-17-30 11-10-14M5507 2912l47 34 16 43 26 30-3 12 24 69 57 22 35 20 17 28 18-9 27 22 19 49 18 1 57 32 21 4 37-11 15-20 40-19 9-97 18-9-5-20 14-28 20 1 0-20 50-23 35-56 32 9 27 1 36-21 23 6 25-6 6 24 49 2 34-13M6063 3004l-27 86 2 58 18 9 12 43 36 21 40-2 13 13 28 11 58-32 31 1-2-28 27-6 13-19 6-26 25-6-5-35 8-18 13-9 23-38 6-25 19-16 21-36 46-12 7-7 33 6-6 17 20 4-10-1-3-11 7 4-6-12-2 4 14 18-9 15 11 1-10 4-8 13M5863 3006l4-42-9-26-14-10-14-48 9-44 14-15 25-13 9-23-6-18 14-8-11-68 17-47 14-17 4-35 18-30 14 3 41-34 48-8 4 8 25-8 31 5 9-35 19-16 14-2 9-27 15-21 5-29 15-9-31-34 12 13-21-6-15 9 3-5-14 1 10-3-82-2M5513 2789l12 19 20 16 45-5 41 15 57 39 15 4 19 19 22 40 0 30-8 13 24 10-13 29 23 20 21 5 13 38 35 44-10 19 10 33-8 32 1 26-28 20 22 40-18 46-12 11-6 41-20 62-11 14-3 32-11 12 0 33-22 22 2 18-27-1-10 23-26 8-53 65-2 25-12 18 1 48-19 20 17-4M5550 3182l-35 16-30-11-27-32-14-7-20-39 20-73 9-8-22-51 1-70 6-13-8-35-9-4-3-26-23-20-27 12-26-4-52 33-12 30-16 10-17 29 10 62 16 28-10 19 17 5 3 31 22 35 69 32 9 27 23 17 13 28M6053 2924l-10 31-8 5-15 75 4 15-16 7-31 39-34 26-1-6-20 23 16 32-25 14-7 17-16 16-19 1-20 37-9-11-30 28-71 0-34 21-45 0-16 43-23 30-86 31-70 64-33 17-15 22-87 69-8 14 1 24-14 19 0 23-23 46-15-2-20 49-30 4-3 22-32 18M5557 3020l38 31 17-5 11 18 22 1 19-20 21-10 2-25 23-46 27-4 16-10 8-14 54-10 12-10 20-1 27-17 19-4 13-38 21-27-5-21 17-6 4-35 8-15 30-16 32-2-2-16 9-26 12-7 22-86-31-89 7-32-13 5-28-12-46-48-19-5-10-31-12-19-24-19-4 23-24-20M6143 3287l12 18-11 53 10 43-17 42 2 24-30 30 7 28-10 19 11 2 9 29-22 25 1 28 10 27-14 39 10 56-2 37-41-5-1 4-15-8-2 17-8-8M6011 3046l3 25 17-1 38 37 11 21 17 16 5 23 19 1 34 30 30 8 22 20 13-6 18 19 28-16 13 24 21 4 13 29 46 17 10-14 26 13 29-6 29-24 25-1 26-44 15-13-13 13 17 9-7 21-3-18 1 16 7-5-7-78 12-22-20-37 13-16-8-24 13-14-9-31 11-24-5-22 10-11M5722 3088l43-12 26 14 18 2 18-15 12 5 70-30 28 10 12-14 34-23 20-39 20-25-13-25 26-18-2-18-16-28-2-24-10-11 11-28-4-58 15-45 39-28 20 11 38-5 18 11 81-13M6021 3145l-58 3-33-11-4-10-41 1-18 15-1-9-43-10-12 11-23-9-52 10-8-19-40-24-14-19-17-25 2-17-21-10-7-18-57-64-26-20 1 6-40-5-41 17-58 10-24 16-21 31-11-7M5914 2849l13 13 10 44 32 11-1 13 26 19 63 4 24-7 30 33 34 0 71-15-4 27 31 19 3 18 26 14 16 26 12-6 70 18 16-16 27-10 7-16 60-23 8 8 33-10M5567 3252l-24 22 10 15-18 9-4 36-34 54-61 0-14 19-12 19-1 16-17 8-2 38-24 59-23 15-31 53-25 19 2 8-41 13-6 15-25-2M5857 3041l5-27 38-46 8-18 31-12-2-24 9-11 17-56 28-49-3-21 10-44 13-24 16-8 1-22 52-25 11-22-2-26 21-77-5-38-22-26-18-10-16-35M6112 3357l14 23-9 35 22 14 20 27 32 30-4 24-11 22-21 12-21 1-29 38-22 11-44 42-23 2-41 22-18 20-37 23-53 23-6 19 11 25-15 21 8-12M5861 2806l34 14 34 5 33-9 43 17 26 1 22-8 71 64 22-7 18-16 58 55 9 25-17 14 2 20-16 56 3 30-5 24 9 16-13 21 13 29-27 14 12 42-28 16-34 33-1 12-23 11-23 4-20-11-50-11-42-22 0-11-22-10-45-46-38-30-23 3-24-16-17-1-56-67-39-18M5504 3408l24-35 36-16 29-1 14-8 16 14 30-4 43 30 10 30-14 28 2 35-27 47 6 4-48 49-13 6-21 44-44 34-13 18-29 6-19 16-17-13-22 15-35-7-18 20-15 0-17 15-50 3-59 22-18 27-18-1 16-7-12 8-3-10 1 14 2-10-15-2"/></defs><g transform="scale(0.1)" fill="none" stroke-linejoin="round"><use href="#trk3" stroke="#e2efc0" stroke-width="20" opacity="0.6"/><use href="#trk3" stroke="#ff1a10" stroke-width="8"/></g>
<text transform="translate(580.40,226.80) scale(1,1.07)" font-family='"Liberation Sans", sans-serif' font-size="14.5" font-weight="normal" text-anchor="middle" fill="#111" >MPTP+ADF</text>
<text x="116.50" y="449.30" font-family='"Liberation Sans", sans-serif' font-size="10.3" font-weight="bold" text-anchor="middle" fill="#111" >Open field test</text>
<path d="M71.50,575.10 V497.00 H87.50 V575.10" fill="none" stroke="#e8a060" stroke-width="1.1"/>
<circle cx="73.30" cy="485.59" r="2.45" fill="#cb6c22"/>
<circle cx="85.40" cy="484.60" r="2.45" fill="#cb6c22"/>
<circle cx="73.30" cy="499.20" r="2.45" fill="#cb6c22"/>
<circle cx="85.40" cy="497.30" r="2.45" fill="#cb6c22"/>
<circle cx="79.50" cy="504.00" r="2.45" fill="#cb6c22"/>
<circle cx="79.50" cy="511.31" r="2.45" fill="#cb6c22"/>
<line x1="79.50" y1="492.76" x2="79.50" y2="501.24" stroke="#e49a5c" stroke-width="1.0" />
<line x1="75.90" y1="492.76" x2="83.10" y2="492.76" stroke="#e49a5c" stroke-width="1.0" />
<line x1="75.90" y1="501.24" x2="83.10" y2="501.24" stroke="#e49a5c" stroke-width="1.0" />
<line x1="79.50" y1="575.10" x2="79.50" y2="579.40" stroke="#444" stroke-width="1.0" />
<text transform="translate(81.10,589.10) rotate(-45) scale(1,1.2)" font-family='"Liberation Sans", sans-serif' font-size="8.6" font-weight="bold" text-anchor="end" fill="#111">NS+AL</text>
<path d="M96.00,575.10 V509.40 H112.00 V575.10" fill="none" stroke="#dc8c90" stroke-width="1.1"/>
<rect x="101.60" y="489.89" width="4.80" height="4.80" fill="#ad1c1c"/>
<rect x="101.60" y="501.60" width="4.80" height="4.80" fill="#ad1c1c"/>
<rect x="95.40" y="508.40" width="4.80" height="4.80" fill="#ad1c1c"/>
<rect x="107.60" y="507.70" width="4.80" height="4.80" fill="#ad1c1c"/>
<rect x="95.40" y="516.50" width="4.80" height="4.80" fill="#ad1c1c"/>
<rect x="107.60" y="514.70" width="4.80" height="4.80" fill="#ad1c1c"/>
<line x1="104.00" y1="505.75" x2="104.00" y2="513.05" stroke="#b02a2a" stroke-width="1.0" />
<line x1="100.40" y1="505.75" x2="107.60" y2="505.75" stroke="#b02a2a" stroke-width="1.0" />
<line x1="100.40" y1="513.05" x2="107.60" y2="513.05" stroke="#b02a2a" stroke-width="1.0" />
<line x1="104.00" y1="575.10" x2="104.00" y2="579.40" stroke="#444" stroke-width="1.0" />
<text transform="translate(105.60,589.10) rotate(-45) scale(1,1.2)" font-family='"Liberation Sans", sans-serif' font-size="8.6" font-weight="bold" text-anchor="end" fill="#111">NS+ADF</text>
<path d="M120.50,575.10 V519.60 H136.50 V575.10" fill="none" stroke="#5a9a5a" stroke-width="1.1"/>
<path d="M122.40,508.16 L124.92,512.72 L119.88,512.72Z" fill="#23702a"/>
<path d="M128.50,510.66 L131.02,515.22 L125.98,515.22Z" fill="#23702a"/>
<path d="M134.30,510.37 L136.82,514.93 L131.78,514.93Z" fill="#23702a"/>
<path d="M128.50,521.37 L131.02,525.93 L125.98,525.93Z" fill="#23702a"/>
<path d="M122.40,525.76 L124.92,530.32 L119.88,530.32Z" fill="#23702a"/>
<path d="M134.30,523.25 L136.82,527.81 L131.78,527.81Z" fill="#23702a"/>
<line x1="128.50" y1="516.63" x2="128.50" y2="522.57" stroke="#2f7a34" stroke-width="1.0" />
<line x1="124.90" y1="516.63" x2="132.10" y2="516.63" stroke="#2f7a34" stroke-width="1.0" />
<line x1="124.90" y1="522.57" x2="132.10" y2="522.57" stroke="#2f7a34" stroke-width="1.0" />
<line x1="128.50" y1="575.10" x2="128.50" y2="579.40" stroke="#444" stroke-width="1.0" />
<text transform="translate(130.10,589.10) rotate(-45) scale(1,1.2)" font-family='"Liberation Sans", sans-serif' font-size="8.6" font-weight="bold" text-anchor="end" fill="#111">MPTP+AL</text>
<path d="M144.90,575.10 V505.39 H160.90 V575.10" fill="none" stroke="#a890c8" stroke-width="1.1"/>
<path d="M147.00,504.05 L149.52,499.49 L144.48,499.49Z" fill="#3f1a70"/>
<path d="M151.10,502.25 L153.62,497.69 L148.58,497.69Z" fill="#3f1a70"/>
<path d="M155.10,505.74 L157.62,501.18 L152.58,501.18Z" fill="#3f1a70"/>
<path d="M151.40,507.25 L153.92,502.69 L148.88,502.69Z" fill="#3f1a70"/>
<path d="M159.20,508.03 L161.72,503.47 L156.68,503.47Z" fill="#3f1a70"/>
<path d="M152.60,513.95 L155.12,509.39 L150.08,509.39Z" fill="#3f1a70"/>
<line x1="152.90" y1="504.12" x2="152.90" y2="506.67" stroke="#9a80c0" stroke-width="1.0" />
<line x1="149.30" y1="504.12" x2="156.50" y2="504.12" stroke="#9a80c0" stroke-width="1.0" />
<line x1="149.30" y1="506.67" x2="156.50" y2="506.67" stroke="#9a80c0" stroke-width="1.0" />
<line x1="152.90" y1="575.10" x2="152.90" y2="579.40" stroke="#444" stroke-width="1.0" />
<text transform="translate(154.50,589.10) rotate(-45) scale(1,1.2)" font-family='"Liberation Sans", sans-serif' font-size="8.6" font-weight="bold" text-anchor="end" fill="#111">MPTP+ADF</text>
<line x1="63.40" y1="468.60" x2="63.40" y2="575.60" stroke="#444" stroke-width="1.0" />
<line x1="62.90" y1="575.10" x2="169.10" y2="575.10" stroke="#444" stroke-width="1.0" />
<line x1="58.90" y1="575.10" x2="63.40" y2="575.10" stroke="#444" stroke-width="1.0" />
<text transform="translate(57.60,578.47) scale(1,1.22)" font-family='"Liberation Sans", sans-serif' font-size="7.9" font-weight="bold" text-anchor="end" fill="#111" >0</text>
<line x1="58.90" y1="553.90" x2="63.40" y2="553.90" stroke="#444" stroke-width="1.0" />
<text transform="translate(57.60,557.27) scale(1,1.22)" font-family='"Liberation Sans", sans-serif' font-size="7.9" font-weight="bold" text-anchor="end" fill="#111" >1000</text>
<line x1="58.90" y1="532.70" x2="63.40" y2="532.70" stroke="#444" stroke-width="1.0" />
<text transform="translate(57.60,536.07) scale(1,1.22)" font-family='"Liberation Sans", sans-serif' font-size="7.9" font-weight="bold" text-anchor="end" fill="#111" >2000</text>
<line x1="58.90" y1="511.50" x2="63.40" y2="511.50" stroke="#444" stroke-width="1.0" />
<text transform="translate(57.60,514.87) scale(1,1.22)" font-family='"Liberation Sans", sans-serif' font-size="7.9" font-weight="bold" text-anchor="end" fill="#111" >3000</text>
<line x1="58.90" y1="490.30" x2="63.40" y2="490.30" stroke="#444" stroke-width="1.0" />
<text transform="translate(57.60,493.67) scale(1,1.22)" font-family='"Liberation Sans", sans-serif' font-size="7.9" font-weight="bold" text-anchor="end" fill="#111" >4000</text>
<line x1="58.90" y1="469.10" x2="63.40" y2="469.10" stroke="#444" stroke-width="1.0" />
<text transform="translate(57.60,472.47) scale(1,1.22)" font-family='"Liberation Sans", sans-serif' font-size="7.9" font-weight="bold" text-anchor="end" fill="#111" >5000</text>
<line x1="79.70" y1="472.30" x2="126.00" y2="472.30" stroke="#333" stroke-width="1.2" />
<text transform="translate(82.40,468.70) scale(1,1.08)" font-family='"Liberation Sans", sans-serif' font-size="9.75" font-weight="bold" fill="#111" font-style="italic">p</text>
<text transform="translate(97.80,468.70) scale(1,1.08)" font-family='"Liberation Sans", sans-serif' font-size="9.75" font-weight="bold" fill="#111">0.001</text>
<path d="M96.90,461.70 L89.70,465.40 L96.90,469.10" fill="none" stroke="#111" stroke-width="0.95"/>
<line x1="130.80" y1="472.30" x2="152.80" y2="472.30" stroke="#333" stroke-width="1.2" />
<text transform="translate(130.70,468.70) scale(1,1.08)" font-family='"Liberation Sans", sans-serif' font-size="9.75" font-weight="bold" fill="#111"><tspan font-style="italic">p</tspan>=0.030</text>
<text transform="translate(23.60,522.30) rotate(-90)" font-family='"Liberation Sans", sans-serif' font-size="8.7" font-weight="bold" text-anchor="middle" fill="#111">Total distance moved</text>
<text transform="translate(34.20,522.00) rotate(-90)" font-family='"Liberation Sans", sans-serif' font-size="8.7" font-weight="bold" text-anchor="middle" fill="#111">(cm)</text>
<text x="283.90" y="449.50" font-family='"Liberation Sans", sans-serif' font-size="10.7" font-weight="bold" text-anchor="middle" fill="#111" >Open field test</text>
<path d="M237.35,573.00 V513.38 H253.85 V573.00" fill="none" stroke="#e8a060" stroke-width="1.1"/>
<circle cx="245.60" cy="494.46" r="2.45" fill="#cb6c22"/>
<circle cx="245.60" cy="504.42" r="2.45" fill="#cb6c22"/>
<circle cx="245.60" cy="510.19" r="2.45" fill="#cb6c22"/>
<circle cx="239.50" cy="514.48" r="2.45" fill="#cb6c22"/>
<circle cx="252.00" cy="515.63" r="2.45" fill="#cb6c22"/>
<circle cx="245.60" cy="540.99" r="2.45" fill="#cb6c22"/>
<line x1="245.60" y1="506.94" x2="245.60" y2="519.82" stroke="#e49a5c" stroke-width="1.0" />
<line x1="242.00" y1="506.94" x2="249.20" y2="506.94" stroke="#e49a5c" stroke-width="1.0" />
<line x1="242.00" y1="519.82" x2="249.20" y2="519.82" stroke="#e49a5c" stroke-width="1.0" />
<line x1="245.60" y1="573.00" x2="245.60" y2="577.30" stroke="#444" stroke-width="1.0" />
<text transform="translate(247.20,587.00) rotate(-45) scale(1,1.2)" font-family='"Liberation Sans", sans-serif' font-size="8.6" font-weight="bold" text-anchor="end" fill="#111">NS+AL</text>
<path d="M262.55,573.00 V511.29 H279.05 V573.00" fill="none" stroke="#dc8c90" stroke-width="1.1"/>
<rect x="268.70" y="485.30" width="4.80" height="4.80" fill="#ad1c1c"/>
<rect x="268.70" y="497.73" width="4.80" height="4.80" fill="#ad1c1c"/>
<rect x="268.70" y="506.20" width="4.80" height="4.80" fill="#ad1c1c"/>
<rect x="268.70" y="512.90" width="4.80" height="4.80" fill="#ad1c1c"/>
<rect x="262.40" y="524.68" width="4.80" height="4.80" fill="#ad1c1c"/>
<rect x="274.80" y="524.68" width="4.80" height="4.80" fill="#ad1c1c"/>
<line x1="270.80" y1="504.80" x2="270.80" y2="517.78" stroke="#b02a2a" stroke-width="1.0" />
<line x1="267.20" y1="504.80" x2="274.40" y2="504.80" stroke="#b02a2a" stroke-width="1.0" />
<line x1="267.20" y1="517.78" x2="274.40" y2="517.78" stroke="#b02a2a" stroke-width="1.0" />
<line x1="270.80" y1="573.00" x2="270.80" y2="577.30" stroke="#444" stroke-width="1.0" />
<text transform="translate(272.40,587.00) rotate(-45) scale(1,1.2)" font-family='"Liberation Sans", sans-serif' font-size="8.6" font-weight="bold" text-anchor="end" fill="#111">NS+ADF</text>
<path d="M288.15,573.00 V533.29 H304.65 V573.00" fill="none" stroke="#5a9a5a" stroke-width="1.1"/>
<path d="M296.40,510.74 L298.92,515.30 L293.88,515.30Z" fill="#23702a"/>
<path d="M289.90,521.13 L292.42,525.69 L287.38,525.69Z" fill="#23702a"/>
<path d="M302.80,524.44 L305.32,529.00 L300.28,529.00Z" fill="#23702a"/>
<path d="M296.40,529.88 L298.92,534.44 L293.88,534.44Z" fill="#23702a"/>
<path d="M296.40,537.58 L298.92,542.14 L293.88,542.14Z" fill="#23702a"/>
<path d="M296.40,562.77 L298.92,567.33 L293.88,567.33Z" fill="#23702a"/>
<line x1="296.40" y1="526.25" x2="296.40" y2="540.33" stroke="#2f7a34" stroke-width="1.0" />
<line x1="292.80" y1="526.25" x2="300.00" y2="526.25" stroke="#2f7a34" stroke-width="1.0" />
<line x1="292.80" y1="540.33" x2="300.00" y2="540.33" stroke="#2f7a34" stroke-width="1.0" />
<line x1="296.40" y1="573.00" x2="296.40" y2="577.30" stroke="#444" stroke-width="1.0" />
<text transform="translate(298.00,587.00) rotate(-45) scale(1,1.2)" font-family='"Liberation Sans", sans-serif' font-size="8.6" font-weight="bold" text-anchor="end" fill="#111">MPTP+AL</text>
<path d="M313.55,573.00 V505.24 H330.05 V573.00" fill="none" stroke="#a890c8" stroke-width="1.1"/>
<path d="M321.80,496.27 L324.32,491.71 L319.28,491.71Z" fill="#3f1a70"/>
<path d="M328.30,493.52 L330.82,488.96 L325.78,488.96Z" fill="#3f1a70"/>
<path d="M315.70,511.24 L318.22,506.68 L313.18,506.68Z" fill="#3f1a70"/>
<path d="M321.80,512.83 L324.32,508.27 L319.28,508.27Z" fill="#3f1a70"/>
<path d="M328.30,512.34 L330.82,507.77 L325.78,507.77Z" fill="#3f1a70"/>
<path d="M321.80,518.27 L324.32,513.72 L319.28,513.72Z" fill="#3f1a70"/>
<line x1="321.80" y1="501.39" x2="321.80" y2="509.09" stroke="#9a80c0" stroke-width="1.0" />
<line x1="318.20" y1="501.39" x2="325.40" y2="501.39" stroke="#9a80c0" stroke-width="1.0" />
<line x1="318.20" y1="509.09" x2="325.40" y2="509.09" stroke="#9a80c0" stroke-width="1.0" />
<line x1="321.80" y1="573.00" x2="321.80" y2="577.30" stroke="#444" stroke-width="1.0" />
<text transform="translate(323.40,587.00) rotate(-45) scale(1,1.2)" font-family='"Liberation Sans", sans-serif' font-size="8.6" font-weight="bold" text-anchor="end" fill="#111">MPTP+ADF</text>
<line x1="228.00" y1="462.50" x2="228.00" y2="573.50" stroke="#444" stroke-width="1.0" />
<line x1="227.50" y1="573.00" x2="339.00" y2="573.00" stroke="#444" stroke-width="1.0" />
<line x1="223.50" y1="573.00" x2="228.00" y2="573.00" stroke="#444" stroke-width="1.0" />
<text transform="translate(222.20,576.37) scale(1,1.22)" font-family='"Liberation Sans", sans-serif' font-size="7.9" font-weight="bold" text-anchor="end" fill="#111" >0</text>
<line x1="223.50" y1="545.50" x2="228.00" y2="545.50" stroke="#444" stroke-width="1.0" />
<text transform="translate(222.20,548.87) scale(1,1.22)" font-family='"Liberation Sans", sans-serif' font-size="7.9" font-weight="bold" text-anchor="end" fill="#111" >50</text>
<line x1="223.50" y1="518.00" x2="228.00" y2="518.00" stroke="#444" stroke-width="1.0" />
<text transform="translate(222.20,521.37) scale(1,1.22)" font-family='"Liberation Sans", sans-serif' font-size="7.9" font-weight="bold" text-anchor="end" fill="#111" >100</text>
<line x1="223.50" y1="490.50" x2="228.00" y2="490.50" stroke="#444" stroke-width="1.0" />
<text transform="translate(222.20,493.87) scale(1,1.22)" font-family='"Liberation Sans", sans-serif' font-size="7.9" font-weight="bold" text-anchor="end" fill="#111" >150</text>
<line x1="223.50" y1="463.00" x2="228.00" y2="463.00" stroke="#444" stroke-width="1.0" />
<text transform="translate(222.20,466.37) scale(1,1.22)" font-family='"Liberation Sans", sans-serif' font-size="7.9" font-weight="bold" text-anchor="end" fill="#111" >200</text>
<line x1="244.10" y1="475.00" x2="290.80" y2="475.00" stroke="#333" stroke-width="1.2" />
<text transform="translate(247.60,471.40) scale(1,1.08)" font-family='"Liberation Sans", sans-serif' font-size="9.75" font-weight="bold" fill="#111"><tspan font-style="italic">p</tspan>=0.130</text>
<line x1="296.60" y1="475.00" x2="321.50" y2="475.00" stroke="#333" stroke-width="1.2" />
<text transform="translate(294.80,471.40) scale(1,1.08)" font-family='"Liberation Sans", sans-serif' font-size="9.75" font-weight="bold" fill="#111"><tspan font-style="italic">p</tspan>=0.019</text>
<text transform="translate(203.90,518.80) rotate(-90)" font-family='"Liberation Sans", sans-serif' font-size="8.7" font-weight="bold" text-anchor="middle" fill="#111">Time in center<tspan dx="3">(</tspan><tspan dx="1">s</tspan><tspan dx="1.5">)</tspan></text>
<text x="451.70" y="449.30" font-family='"Liberation Sans", sans-serif' font-size="10.3" font-weight="bold" text-anchor="middle" fill="#111" >Rotarod test</text>
<path d="M405.60,574.30 V504.81 H422.40 V574.30" fill="none" stroke="#f0c4a0" stroke-width="1.1"/>
<circle cx="414.00" cy="484.91" r="2.45" fill="#cb6c22"/>
<circle cx="414.00" cy="493.61" r="2.45" fill="#cb6c22"/>
<circle cx="414.00" cy="502.49" r="2.45" fill="#cb6c22"/>
<circle cx="407.80" cy="511.40" r="2.45" fill="#cb6c22"/>
<circle cx="420.20" cy="513.99" r="2.45" fill="#cb6c22"/>
<circle cx="414.00" cy="519.80" r="2.45" fill="#cb6c22"/>
<line x1="414.00" y1="499.30" x2="414.00" y2="510.33" stroke="#ecb890" stroke-width="1.0" />
<line x1="410.40" y1="499.30" x2="417.60" y2="499.30" stroke="#ecb890" stroke-width="1.0" />
<line x1="410.40" y1="510.33" x2="417.60" y2="510.33" stroke="#ecb890" stroke-width="1.0" />
<line x1="414.00" y1="574.30" x2="414.00" y2="578.60" stroke="#444" stroke-width="1.0" />
<text transform="translate(415.60,588.30) rotate(-45) scale(1,1.2)" font-family='"Liberation Sans", sans-serif' font-size="8.6" font-weight="bold" text-anchor="end" fill="#111">NS+AL</text>
<path d="M430.80,574.30 V506.71 H447.60 V574.30" fill="none" stroke="#e3a3ad" stroke-width="1.1"/>
<rect x="433.60" y="495.52" width="4.80" height="4.80" fill="#ad1c1c"/>
<rect x="439.70" y="495.52" width="4.80" height="4.80" fill="#ad1c1c"/>
<rect x="430.60" y="505.51" width="4.80" height="4.80" fill="#ad1c1c"/>
<rect x="442.70" y="505.90" width="4.80" height="4.80" fill="#ad1c1c"/>
<rect x="436.80" y="509.30" width="4.80" height="4.80" fill="#ad1c1c"/>
<rect x="436.80" y="515.51" width="4.80" height="4.80" fill="#ad1c1c"/>
<line x1="439.20" y1="504.21" x2="439.20" y2="509.21" stroke="#b02a2a" stroke-width="1.0" />
<line x1="435.60" y1="504.21" x2="442.80" y2="504.21" stroke="#b02a2a" stroke-width="1.0" />
<line x1="435.60" y1="509.21" x2="442.80" y2="509.21" stroke="#b02a2a" stroke-width="1.0" />
<line x1="439.20" y1="574.30" x2="439.20" y2="578.60" stroke="#444" stroke-width="1.0" />
<text transform="translate(440.80,588.30) rotate(-45) scale(1,1.2)" font-family='"Liberation Sans", sans-serif' font-size="8.6" font-weight="bold" text-anchor="end" fill="#111">NS+ADF</text>
<path d="M455.90,574.30 V526.70 H472.70 V574.30" fill="none" stroke="#a4cca4" stroke-width="1.1"/>
<path d="M464.30,512.90 L466.82,517.46 L461.78,517.46Z" fill="#23702a"/>
<path d="M457.80,519.79 L460.32,524.35 L455.28,524.35Z" fill="#23702a"/>
<path d="M470.00,523.15 L472.52,527.71 L467.48,527.71Z" fill="#23702a"/>
<path d="M457.80,525.95 L460.32,530.51 L455.28,530.51Z" fill="#23702a"/>
<path d="M470.00,529.36 L472.52,533.92 L467.48,533.92Z" fill="#23702a"/>
<path d="M457.80,533.28 L460.32,537.84 L455.28,537.84Z" fill="#23702a"/>
<line x1="464.30" y1="523.68" x2="464.30" y2="529.71" stroke="#4a8f4a" stroke-width="1.0" />
<line x1="460.70" y1="523.68" x2="467.90" y2="523.68" stroke="#4a8f4a" stroke-width="1.0" />
<line x1="460.70" y1="529.71" x2="467.90" y2="529.71" stroke="#4a8f4a" stroke-width="1.0" />
<line x1="464.30" y1="574.30" x2="464.30" y2="578.60" stroke="#444" stroke-width="1.0" />
<text transform="translate(465.90,588.30) rotate(-45) scale(1,1.2)" font-family='"Liberation Sans", sans-serif' font-size="8.6" font-weight="bold" text-anchor="end" fill="#111">MPTP+AL</text>
<path d="M480.70,574.30 V506.79 H497.50 V574.30" fill="none" stroke="#bcaad4" stroke-width="1.1"/>
<path d="M482.60,502.15 L485.12,497.59 L480.08,497.59Z" fill="#3f1a70"/>
<path d="M489.10,500.13 L491.62,495.57 L486.58,495.57Z" fill="#3f1a70"/>
<path d="M495.10,503.36 L497.62,498.80 L492.58,498.80Z" fill="#3f1a70"/>
<path d="M489.10,512.84 L491.62,508.28 L486.58,508.28Z" fill="#3f1a70"/>
<path d="M482.60,517.14 L485.12,512.58 L480.08,512.58Z" fill="#3f1a70"/>
<path d="M495.10,516.63 L497.62,512.07 L492.58,512.07Z" fill="#3f1a70"/>
<line x1="489.10" y1="503.43" x2="489.10" y2="510.15" stroke="#a890c8" stroke-width="1.0" />
<line x1="485.50" y1="503.43" x2="492.70" y2="503.43" stroke="#a890c8" stroke-width="1.0" />
<line x1="485.50" y1="510.15" x2="492.70" y2="510.15" stroke="#a890c8" stroke-width="1.0" />
<line x1="489.10" y1="574.30" x2="489.10" y2="578.60" stroke="#444" stroke-width="1.0" />
<text transform="translate(490.70,588.30) rotate(-45) scale(1,1.2)" font-family='"Liberation Sans", sans-serif' font-size="8.6" font-weight="bold" text-anchor="end" fill="#111">MPTP+ADF</text>
<line x1="397.20" y1="466.10" x2="397.20" y2="574.80" stroke="#444" stroke-width="1.0" />
<line x1="396.70" y1="574.30" x2="505.90" y2="574.30" stroke="#444" stroke-width="1.0" />
<line x1="392.70" y1="574.30" x2="397.20" y2="574.30" stroke="#444" stroke-width="1.0" />
<text transform="translate(391.40,577.67) scale(1,1.22)" font-family='"Liberation Sans", sans-serif' font-size="7.9" font-weight="bold" text-anchor="end" fill="#111" >0</text>
<line x1="392.70" y1="552.76" x2="397.20" y2="552.76" stroke="#444" stroke-width="1.0" />
<text transform="translate(391.40,556.13) scale(1,1.22)" font-family='"Liberation Sans", sans-serif' font-size="7.9" font-weight="bold" text-anchor="end" fill="#111" >50</text>
<line x1="392.70" y1="531.22" x2="397.20" y2="531.22" stroke="#444" stroke-width="1.0" />
<text transform="translate(391.40,534.59) scale(1,1.22)" font-family='"Liberation Sans", sans-serif' font-size="7.9" font-weight="bold" text-anchor="end" fill="#111" >100</text>
<line x1="392.70" y1="509.68" x2="397.20" y2="509.68" stroke="#444" stroke-width="1.0" />
<text transform="translate(391.40,513.05) scale(1,1.22)" font-family='"Liberation Sans", sans-serif' font-size="7.9" font-weight="bold" text-anchor="end" fill="#111" >150</text>
<line x1="392.70" y1="488.14" x2="397.20" y2="488.14" stroke="#444" stroke-width="1.0" />
<text transform="translate(391.40,491.51) scale(1,1.22)" font-family='"Liberation Sans", sans-serif' font-size="7.9" font-weight="bold" text-anchor="end" fill="#111" >200</text>
<line x1="392.70" y1="466.60" x2="397.20" y2="466.60" stroke="#444" stroke-width="1.0" />
<text transform="translate(391.40,469.97) scale(1,1.22)" font-family='"Liberation Sans", sans-serif' font-size="7.9" font-weight="bold" text-anchor="end" fill="#111" >250</text>
<line x1="414.10" y1="472.20" x2="461.80" y2="472.20" stroke="#333" stroke-width="1.2" />
<text transform="translate(417.60,468.60) scale(1,1.08)" font-family='"Liberation Sans", sans-serif' font-size="9.75" font-weight="bold" fill="#111"><tspan font-style="italic">p</tspan>=0.003</text>
<line x1="466.20" y1="472.20" x2="488.80" y2="472.20" stroke="#333" stroke-width="1.2" />
<text transform="translate(463.90,468.60) scale(1,1.08)" font-family='"Liberation Sans", sans-serif' font-size="9.75" font-weight="bold" fill="#111"><tspan font-style="italic">p</tspan>=0.007</text>
<text transform="translate(373.40,520.30) rotate(-90)" font-family='"Liberation Sans", sans-serif' font-size="8.7" font-weight="bold" text-anchor="middle" fill="#111">Latency<tspan dx="1.5">(</tspan>s<tspan dx="0.5">)</tspan></text>
<text x="617.30" y="447.00" font-family='"Liberation Sans", sans-serif' font-size="9.3" font-weight="bold" text-anchor="middle" fill="#111" >Pole test</text>
<path d="M568.35,576.30 V538.58 H585.65 V576.30" fill="none" stroke="#eab080" stroke-width="1.1"/>
<circle cx="570.70" cy="535.88" r="2.45" fill="#cb6c22"/>
<circle cx="577.50" cy="533.81" r="2.45" fill="#cb6c22"/>
<circle cx="583.90" cy="530.13" r="2.45" fill="#cb6c22"/>
<circle cx="583.60" cy="537.49" r="2.45" fill="#cb6c22"/>
<circle cx="573.90" cy="547.09" r="2.45" fill="#cb6c22"/>
<circle cx="580.30" cy="545.48" r="2.45" fill="#cb6c22"/>
<line x1="577.00" y1="535.42" x2="577.00" y2="541.74" stroke="#e49a5c" stroke-width="1.0" />
<line x1="573.40" y1="535.42" x2="580.60" y2="535.42" stroke="#e49a5c" stroke-width="1.0" />
<line x1="573.40" y1="541.74" x2="580.60" y2="541.74" stroke="#e49a5c" stroke-width="1.0" />
<line x1="577.00" y1="576.30" x2="577.00" y2="580.60" stroke="#444" stroke-width="1.0" />
<text transform="translate(578.60,590.30) rotate(-45) scale(1,1.2)" font-family='"Liberation Sans", sans-serif' font-size="8.6" font-weight="bold" text-anchor="end" fill="#111">NS+AL</text>
<path d="M594.85,576.30 V536.05 H612.15 V576.30" fill="none" stroke="#cc5c5c" stroke-width="1.1"/>
<rect x="594.80" y="531.41" width="4.80" height="4.80" fill="#ad1c1c"/>
<rect x="601.60" y="529.28" width="4.80" height="4.80" fill="#ad1c1c"/>
<rect x="608.00" y="525.77" width="4.80" height="4.80" fill="#ad1c1c"/>
<rect x="608.00" y="531.41" width="4.80" height="4.80" fill="#ad1c1c"/>
<rect x="598.00" y="538.88" width="4.80" height="4.80" fill="#ad1c1c"/>
<rect x="604.40" y="537.27" width="4.80" height="4.80" fill="#ad1c1c"/>
<line x1="603.50" y1="534.61" x2="603.50" y2="537.49" stroke="#b02a2a" stroke-width="1.0" />
<line x1="599.90" y1="534.61" x2="607.10" y2="534.61" stroke="#b02a2a" stroke-width="1.0" />
<line x1="599.90" y1="537.49" x2="607.10" y2="537.49" stroke="#b02a2a" stroke-width="1.0" />
<line x1="603.50" y1="576.30" x2="603.50" y2="580.60" stroke="#444" stroke-width="1.0" />
<text transform="translate(605.10,590.30) rotate(-45) scale(1,1.2)" font-family='"Liberation Sans", sans-serif' font-size="8.6" font-weight="bold" text-anchor="end" fill="#111">NS+ADF</text>
<path d="M621.35,576.30 V509.43 H638.65 V576.30" fill="none" stroke="#88bb88" stroke-width="1.1"/>
<path d="M630.40,483.79 L632.92,488.35 L627.88,488.35Z" fill="#23702a"/>
<path d="M630.40,492.18 L632.92,496.74 L627.88,496.74Z" fill="#23702a"/>
<path d="M630.40,504.66 L632.92,509.22 L627.88,509.22Z" fill="#23702a"/>
<path d="M630.40,518.35 L632.92,522.90 L627.88,522.90Z" fill="#23702a"/>
<path d="M623.70,521.97 L626.22,526.53 L621.18,526.53Z" fill="#23702a"/>
<path d="M636.90,520.36 L639.42,524.92 L634.38,524.92Z" fill="#23702a"/>
<line x1="630.00" y1="502.81" x2="630.00" y2="516.04" stroke="#2f7a34" stroke-width="1.0" />
<line x1="626.40" y1="502.81" x2="633.60" y2="502.81" stroke="#2f7a34" stroke-width="1.0" />
<line x1="626.40" y1="516.04" x2="633.60" y2="516.04" stroke="#2f7a34" stroke-width="1.0" />
<line x1="630.00" y1="576.30" x2="630.00" y2="580.60" stroke="#444" stroke-width="1.0" />
<text transform="translate(631.60,590.30) rotate(-45) scale(1,1.2)" font-family='"Liberation Sans", sans-serif' font-size="8.6" font-weight="bold" text-anchor="end" fill="#111">MPTP+AL</text>
<path d="M648.35,576.30 V527.88 H665.65 V576.30" fill="none" stroke="#8c70c0" stroke-width="1.1"/>
<path d="M650.20,519.25 L652.72,514.70 L647.68,514.70Z" fill="#3f1a70"/>
<path d="M663.40,517.13 L665.92,512.57 L660.88,512.57Z" fill="#3f1a70"/>
<path d="M657.00,528.45 L659.52,523.89 L654.48,523.89Z" fill="#3f1a70"/>
<path d="M657.00,534.03 L659.52,529.47 L654.48,529.47Z" fill="#3f1a70"/>
<path d="M650.20,540.13 L652.72,535.57 L647.68,535.57Z" fill="#3f1a70"/>
<path d="M663.40,540.13 L665.92,535.57 L660.88,535.57Z" fill="#3f1a70"/>
<line x1="657.00" y1="523.86" x2="657.00" y2="531.91" stroke="#5a3a90" stroke-width="1.0" />
<line x1="653.40" y1="523.86" x2="660.60" y2="523.86" stroke="#5a3a90" stroke-width="1.0" />
<line x1="653.40" y1="531.91" x2="660.60" y2="531.91" stroke="#5a3a90" stroke-width="1.0" />
<line x1="657.00" y1="576.30" x2="657.00" y2="580.60" stroke="#444" stroke-width="1.0" />
<text transform="translate(658.60,590.30) rotate(-45) scale(1,1.2)" font-family='"Liberation Sans", sans-serif' font-size="8.6" font-weight="bold" text-anchor="end" fill="#111">MPTP+ADF</text>
<line x1="559.40" y1="460.80" x2="559.40" y2="576.80" stroke="#444" stroke-width="1.0" />
<line x1="558.90" y1="576.30" x2="674.40" y2="576.30" stroke="#444" stroke-width="1.0" />
<line x1="554.90" y1="576.30" x2="559.40" y2="576.30" stroke="#444" stroke-width="1.0" />
<text transform="translate(553.60,579.67) scale(1,1.22)" font-family='"Liberation Sans", sans-serif' font-size="7.9" font-weight="bold" text-anchor="end" fill="#111" >0</text>
<line x1="554.90" y1="547.55" x2="559.40" y2="547.55" stroke="#444" stroke-width="1.0" />
<text transform="translate(553.60,550.92) scale(1,1.22)" font-family='"Liberation Sans", sans-serif' font-size="7.9" font-weight="bold" text-anchor="end" fill="#111" >5</text>
<line x1="554.90" y1="518.80" x2="559.40" y2="518.80" stroke="#444" stroke-width="1.0" />
<text transform="translate(553.60,522.17) scale(1,1.22)" font-family='"Liberation Sans", sans-serif' font-size="7.9" font-weight="bold" text-anchor="end" fill="#111" >10</text>
<line x1="554.90" y1="490.05" x2="559.40" y2="490.05" stroke="#444" stroke-width="1.0" />
<text transform="translate(553.60,493.42) scale(1,1.22)" font-family='"Liberation Sans", sans-serif' font-size="7.9" font-weight="bold" text-anchor="end" fill="#111" >15</text>
<line x1="554.90" y1="461.30" x2="559.40" y2="461.30" stroke="#444" stroke-width="1.0" />
<text transform="translate(553.60,464.67) scale(1,1.22)" font-family='"Liberation Sans", sans-serif' font-size="7.9" font-weight="bold" text-anchor="end" fill="#111" >20</text>
<line x1="577.20" y1="472.50" x2="627.80" y2="472.50" stroke="#333" stroke-width="1.2" />
<text transform="translate(584.50,468.90) scale(1,1.08)" font-family='"Liberation Sans", sans-serif' font-size="9.75" font-weight="bold" fill="#111" font-style="italic">p</text>
<text transform="translate(600.10,468.90) scale(1,1.08)" font-family='"Liberation Sans", sans-serif' font-size="9.75" font-weight="bold" fill="#111">0.001</text>
<path d="M599.00,461.90 L591.80,465.60 L599.00,469.30" fill="none" stroke="#111" stroke-width="0.95"/>
<line x1="633.00" y1="472.50" x2="656.80" y2="472.50" stroke="#333" stroke-width="1.2" />
<text transform="translate(631.20,468.90) scale(1,1.08)" font-family='"Liberation Sans", sans-serif' font-size="9.75" font-weight="bold" fill="#111"><tspan font-style="italic">p</tspan>=0.028</text>
<text transform="translate(538.40,518.20) rotate(-90)" font-family='"Liberation Sans", sans-serif' font-size="9.2" font-weight="bold" text-anchor="middle" fill="#111">Latency(s)</text>
</svg>
</body></html>
